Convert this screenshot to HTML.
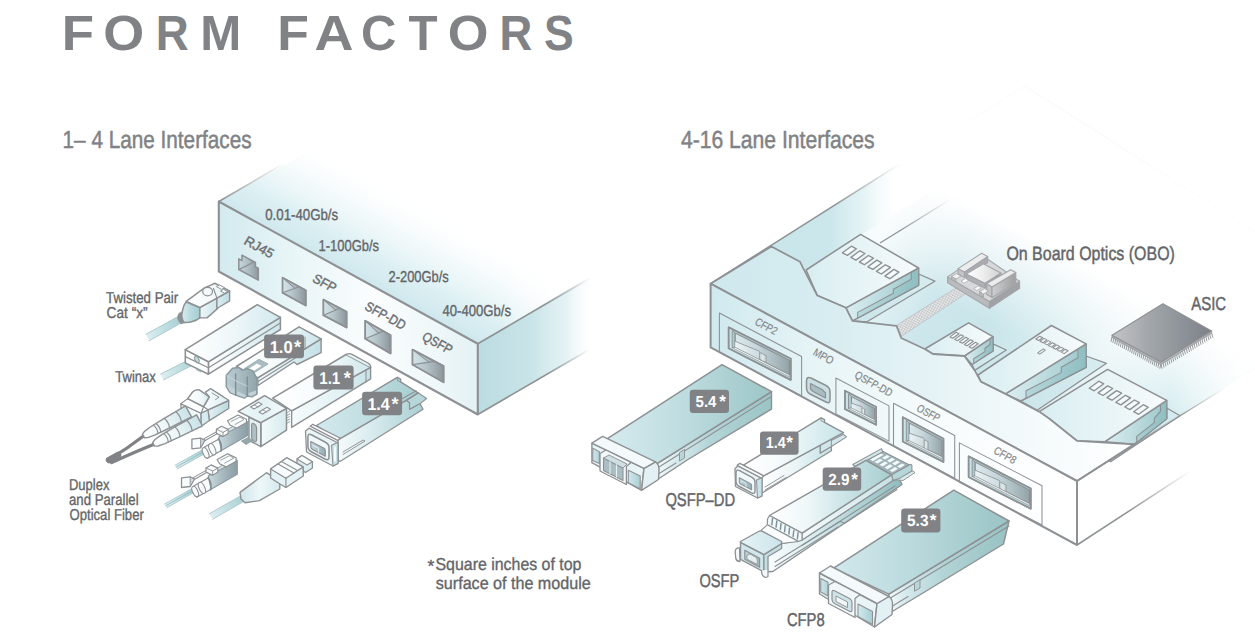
<!DOCTYPE html>
<html><head><meta charset="utf-8"><title>Form Factors</title>
<style>
html,body{margin:0;padding:0;background:#fff;}
body{width:1255px;height:637px;overflow:hidden;font-family:"Liberation Sans",sans-serif;}
svg{display:block;font-family:"Liberation Sans",sans-serif;text-rendering:geometricPrecision;}
</style></head><body>
<svg width="1255" height="637" viewBox="0 0 1255 637">
<defs>
<linearGradient id="g1" gradientUnits="userSpaceOnUse" x1="350.0" y1="273.5" x2="402.0" y2="178.8"><stop offset="0" stop-color="#cfe8ed" stop-opacity="1"/><stop offset="0.25" stop-color="#d9eef2" stop-opacity="0.9"/><stop offset="0.55" stop-color="#e6f4f6" stop-opacity="0.5"/><stop offset="0.92" stop-color="#ffffff" stop-opacity="0"/><stop offset="1" stop-color="#ffffff" stop-opacity="0"/></linearGradient>
<linearGradient id="g2" gradientUnits="userSpaceOnUse" x1="500.0" y1="0.0" x2="600.0" y2="0.0"><stop offset="0" stop-color="#fff" stop-opacity="0"/><stop offset="1" stop-color="#fff" stop-opacity="1"/></linearGradient>
<linearGradient id="g3" gradientUnits="userSpaceOnUse" x1="218.0" y1="0.0" x2="300.0" y2="0.0"><stop offset="0" stop-color="#fff" stop-opacity="0.0"/><stop offset="0.5" stop-color="#fff" stop-opacity="0.0"/><stop offset="1" stop-color="#fff" stop-opacity="0"/></linearGradient>
<linearGradient id="g4" gradientUnits="userSpaceOnUse" x1="478.0" y1="0.0" x2="596.0" y2="0.0"><stop offset="0" stop-color="#bbdce1"/><stop offset="0.45" stop-color="#c9e4e8"/><stop offset="0.75" stop-color="#dceef1" stop-opacity="0.75"/><stop offset="1" stop-color="#ffffff" stop-opacity="0"/></linearGradient>
<linearGradient id="g5" gradientUnits="userSpaceOnUse" x1="218.0" y1="0.0" x2="478.0" y2="0.0"><stop offset="0" stop-color="#d2eaef"/><stop offset="0.25" stop-color="#e6f4f6"/><stop offset="0.6" stop-color="#fbfdfe"/><stop offset="0.85" stop-color="#eef7f9"/><stop offset="1" stop-color="#e3f1f4"/></linearGradient>
<linearGradient id="g6" gradientUnits="userSpaceOnUse" x1="218.8" y1="201.5" x2="285.0" y2="163.0"><stop offset="0" stop-color="#8e9194"/><stop offset="1" stop-color="#8e9194" stop-opacity="0"/></linearGradient>
<linearGradient id="g7" gradientUnits="userSpaceOnUse" x1="478.0" y1="343.0" x2="590.0" y2="278.0"><stop offset="0" stop-color="#8e9194"/><stop offset="0.6" stop-color="#8e9194"/><stop offset="1" stop-color="#8e9194" stop-opacity="0"/></linearGradient>
<linearGradient id="g8" gradientUnits="userSpaceOnUse" x1="478.0" y1="414.0" x2="590.0" y2="349.0"><stop offset="0" stop-color="#8e9194"/><stop offset="0.6" stop-color="#8e9194"/><stop offset="1" stop-color="#8e9194" stop-opacity="0"/></linearGradient>
<linearGradient id="g9" gradientUnits="userSpaceOnUse" x1="238.0" y1="0.0" x2="259.0" y2="0.0"><stop offset="0" stop-color="#c9dbe0"/><stop offset="0.5" stop-color="#aebcc1"/><stop offset="1" stop-color="#8b969b"/></linearGradient>
<linearGradient id="g10" gradientUnits="userSpaceOnUse" x1="282.6" y1="0.0" x2="305.8" y2="0.0"><stop offset="0" stop-color="#c9dbe0"/><stop offset="0.45" stop-color="#b4c3c8"/><stop offset="1" stop-color="#8b969b"/></linearGradient>
<linearGradient id="g11" gradientUnits="userSpaceOnUse" x1="282.6" y1="0.0" x2="294.9" y2="0.0"><stop offset="0" stop-color="#d3e4e8"/><stop offset="1" stop-color="#bccdd2"/></linearGradient>
<linearGradient id="g12" gradientUnits="userSpaceOnUse" x1="323.4" y1="0.0" x2="346.6" y2="0.0"><stop offset="0" stop-color="#c9dbe0"/><stop offset="0.45" stop-color="#b4c3c8"/><stop offset="1" stop-color="#8b969b"/></linearGradient>
<linearGradient id="g13" gradientUnits="userSpaceOnUse" x1="323.4" y1="0.0" x2="335.7" y2="0.0"><stop offset="0" stop-color="#d3e4e8"/><stop offset="1" stop-color="#bccdd2"/></linearGradient>
<linearGradient id="g14" gradientUnits="userSpaceOnUse" x1="365.2" y1="0.0" x2="390.6" y2="0.0"><stop offset="0" stop-color="#c9dbe0"/><stop offset="0.45" stop-color="#b4c3c8"/><stop offset="1" stop-color="#8b969b"/></linearGradient>
<linearGradient id="g15" gradientUnits="userSpaceOnUse" x1="365.2" y1="0.0" x2="378.7" y2="0.0"><stop offset="0" stop-color="#d3e4e8"/><stop offset="1" stop-color="#bccdd2"/></linearGradient>
<linearGradient id="g16" gradientUnits="userSpaceOnUse" x1="412.5" y1="0.0" x2="443.6" y2="0.0"><stop offset="0" stop-color="#c9dbe0"/><stop offset="0.45" stop-color="#b4c3c8"/><stop offset="1" stop-color="#8b969b"/></linearGradient>
<linearGradient id="g17" gradientUnits="userSpaceOnUse" x1="412.5" y1="0.0" x2="429.0" y2="0.0"><stop offset="0" stop-color="#d3e4e8"/><stop offset="1" stop-color="#bccdd2"/></linearGradient>
<linearGradient id="g18" gradientUnits="userSpaceOnUse" x1="147.5" y1="337.5" x2="180.5" y2="319.3"><stop offset="0" stop-color="#dcedf0"/><stop offset="0.5" stop-color="#c1dfe2"/><stop offset="1" stop-color="#a6d0d3"/></linearGradient>
<linearGradient id="g19" gradientUnits="userSpaceOnUse" x1="182.0" y1="0.0" x2="200.0" y2="0.0"><stop offset="0" stop-color="#d9ecef"/><stop offset="0.5" stop-color="#b9dade"/><stop offset="1" stop-color="#a3cdd0"/></linearGradient>
<linearGradient id="g20" gradientUnits="userSpaceOnUse" x1="199.0" y1="0.0" x2="217.0" y2="0.0"><stop offset="0" stop-color="#eef7f9"/><stop offset="1" stop-color="#cfe6ea"/></linearGradient>
<linearGradient id="g21" gradientUnits="userSpaceOnUse" x1="217.0" y1="0.0" x2="230.0" y2="0.0"><stop offset="0" stop-color="#dceef2"/><stop offset="1" stop-color="#bcdce0"/></linearGradient>
<linearGradient id="g22" gradientUnits="userSpaceOnUse" x1="186.0" y1="0.0" x2="230.0" y2="0.0"><stop offset="0" stop-color="#ffffff"/><stop offset="0.6" stop-color="#f4fafb"/><stop offset="1" stop-color="#dceef2"/></linearGradient>
<linearGradient id="g23" gradientUnits="userSpaceOnUse" x1="162.0" y1="377.0" x2="196.5" y2="359.5"><stop offset="0" stop-color="#dcedf0"/><stop offset="0.5" stop-color="#c1dfe2"/><stop offset="1" stop-color="#a6d0d3"/></linearGradient>
<linearGradient id="g24" gradientUnits="userSpaceOnUse" x1="208.0" y1="0.0" x2="281.0" y2="0.0"><stop offset="0" stop-color="#ffffff"/><stop offset="0.5" stop-color="#e9f4f6"/><stop offset="1" stop-color="#cde6ea"/></linearGradient>
<linearGradient id="g25" gradientUnits="userSpaceOnUse" x1="185.0" y1="0.0" x2="281.0" y2="0.0"><stop offset="0" stop-color="#ffffff"/><stop offset="0.45" stop-color="#f1f8fa"/><stop offset="1" stop-color="#d3e9ed"/></linearGradient>
<linearGradient id="g26" gradientUnits="userSpaceOnUse" x1="257.0" y1="0.0" x2="322.0" y2="0.0"><stop offset="0" stop-color="#f4fafb"/><stop offset="0.5" stop-color="#dceef2"/><stop offset="1" stop-color="#c2e0e5"/></linearGradient>
<linearGradient id="g27" gradientUnits="userSpaceOnUse" x1="236.0" y1="0.0" x2="322.0" y2="0.0"><stop offset="0" stop-color="#ffffff"/><stop offset="0.5" stop-color="#f4fafb"/><stop offset="1" stop-color="#cbe5ea"/></linearGradient>
<linearGradient id="g28" gradientUnits="userSpaceOnUse" x1="226.0" y1="0.0" x2="258.0" y2="0.0"><stop offset="0" stop-color="#bccdd2"/><stop offset="0.5" stop-color="#a6b9bf"/><stop offset="1" stop-color="#90a3aa"/></linearGradient>
<linearGradient id="g29" gradientUnits="userSpaceOnUse" x1="291.0" y1="0.0" x2="371.0" y2="0.0"><stop offset="0" stop-color="#f6fbfc"/><stop offset="0.6" stop-color="#e3f2f5"/><stop offset="1" stop-color="#c6e2e7"/></linearGradient>
<linearGradient id="g30" gradientUnits="userSpaceOnUse" x1="272.0" y1="0.0" x2="371.0" y2="0.0"><stop offset="0" stop-color="#ffffff"/><stop offset="0.55" stop-color="#f4fafb"/><stop offset="1" stop-color="#cfe7eb"/></linearGradient>
<linearGradient id="g31" gradientUnits="userSpaceOnUse" x1="261.0" y1="0.0" x2="287.0" y2="0.0"><stop offset="0" stop-color="#f4fafb"/><stop offset="1" stop-color="#d5eaee"/></linearGradient>
<linearGradient id="g32" gradientUnits="userSpaceOnUse" x1="238.0" y1="0.0" x2="287.0" y2="0.0"><stop offset="0" stop-color="#eef7f9"/><stop offset="0.5" stop-color="#e3f1f4"/><stop offset="1" stop-color="#f6fbfc"/></linearGradient>
<linearGradient id="g33" gradientUnits="userSpaceOnUse" x1="338.0" y1="0.0" x2="424.0" y2="0.0"><stop offset="0" stop-color="#f4fafb"/><stop offset="0.35" stop-color="#dcedf0"/><stop offset="1" stop-color="#a9cfd1"/></linearGradient>
<linearGradient id="g34" gradientUnits="userSpaceOnUse" x1="316.0" y1="0.0" x2="420.0" y2="0.0"><stop offset="0" stop-color="#d3e9ed"/><stop offset="0.45" stop-color="#c3dfe3"/><stop offset="1" stop-color="#a5cdcf"/></linearGradient>
<linearGradient id="g35" gradientUnits="userSpaceOnUse" x1="310.0" y1="0.0" x2="326.0" y2="0.0"><stop offset="0" stop-color="#c6dbe0"/><stop offset="1" stop-color="#90aab1"/></linearGradient>
<linearGradient id="g36" gradientUnits="userSpaceOnUse" x1="208.0" y1="0.0" x2="229.0" y2="0.0"><stop offset="0" stop-color="#e3f1f4"/><stop offset="1" stop-color="#b9dade"/></linearGradient>
<linearGradient id="g37" gradientUnits="userSpaceOnUse" x1="203.0" y1="0.0" x2="229.0" y2="0.0"><stop offset="0" stop-color="#f9fcfd"/><stop offset="1" stop-color="#dceef2"/></linearGradient>
<linearGradient id="g38" gradientUnits="userSpaceOnUse" x1="188.0" y1="0.0" x2="210.0" y2="0.0"><stop offset="0" stop-color="#ffffff"/><stop offset="0.6" stop-color="#f1f8fa"/><stop offset="1" stop-color="#cfe6ea"/></linearGradient>
<linearGradient id="g39" gradientUnits="userSpaceOnUse" x1="143.5" y1="436.0" x2="188.5" y2="411.3"><stop offset="0" stop-color="#ffffff"/><stop offset="0.45" stop-color="#eef7f9"/><stop offset="1" stop-color="#c9e3e8"/></linearGradient>
<linearGradient id="g40" gradientUnits="userSpaceOnUse" x1="153.6" y1="444.3" x2="199.5" y2="420.3"><stop offset="0" stop-color="#ffffff"/><stop offset="0.45" stop-color="#eef7f9"/><stop offset="1" stop-color="#c9e3e8"/></linearGradient>
<linearGradient id="g41" gradientUnits="userSpaceOnUse" x1="176.1" y1="467.1" x2="204.0" y2="451.5"><stop offset="0" stop-color="#dcedf0"/><stop offset="0.5" stop-color="#c1dfe2"/><stop offset="1" stop-color="#a6d0d3"/></linearGradient>
<linearGradient id="g42" gradientUnits="userSpaceOnUse" x1="219.0" y1="0.0" x2="248.0" y2="0.0"><stop offset="0" stop-color="#cbdbe0"/><stop offset="0.45" stop-color="#a9bbc1"/><stop offset="1" stop-color="#8b9da4"/></linearGradient>
<linearGradient id="g43" gradientUnits="userSpaceOnUse" x1="165.7" y1="505.8" x2="193.6" y2="490.2"><stop offset="0" stop-color="#dcedf0"/><stop offset="0.5" stop-color="#c1dfe2"/><stop offset="1" stop-color="#a6d0d3"/></linearGradient>
<linearGradient id="g44" gradientUnits="userSpaceOnUse" x1="208.6" y1="0.0" x2="237.6" y2="0.0"><stop offset="0" stop-color="#cbdbe0"/><stop offset="0.45" stop-color="#a9bbc1"/><stop offset="1" stop-color="#8b9da4"/></linearGradient>
<linearGradient id="g45" gradientUnits="userSpaceOnUse" x1="211.0" y1="516.5" x2="245.0" y2="497.0"><stop offset="0" stop-color="#dcedf0"/><stop offset="0.5" stop-color="#c1dfe2"/><stop offset="1" stop-color="#a6d0d3"/></linearGradient>
<linearGradient id="g46" gradientUnits="userSpaceOnUse" x1="240.0" y1="0.0" x2="280.0" y2="0.0"><stop offset="0" stop-color="#cfe6ea"/><stop offset="0.5" stop-color="#eef7f9"/><stop offset="1" stop-color="#d5eaee"/></linearGradient>
<linearGradient id="g47" gradientUnits="userSpaceOnUse" x1="880.0" y1="243.0" x2="1170.6" y2="399.4"><stop offset="0" stop-color="#f4fafb"/><stop offset="0.1" stop-color="#dff0f3"/><stop offset="0.22" stop-color="#cde7ec"/><stop offset="0.4" stop-color="#c9e5ea"/><stop offset="0.58" stop-color="#d3ebef"/><stop offset="0.78" stop-color="#e8f4f6"/><stop offset="0.9" stop-color="#e0f1f4"/><stop offset="1" stop-color="#d3ebef"/></linearGradient>
<linearGradient id="g48" gradientUnits="userSpaceOnUse" x1="710.6" y1="283.7" x2="812.5" y2="94.4"><stop offset="0" stop-color="#fff" stop-opacity="0"/><stop offset="0.45" stop-color="#fff" stop-opacity="0"/><stop offset="0.7" stop-color="#fff" stop-opacity="0.55"/><stop offset="0.9" stop-color="#fff" stop-opacity="1"/><stop offset="1" stop-color="#fff" stop-opacity="1"/></linearGradient>
<linearGradient id="g49" gradientUnits="userSpaceOnUse" x1="1170.0" y1="0.0" x2="1262.0" y2="0.0"><stop offset="0" stop-color="#fff" stop-opacity="0"/><stop offset="1" stop-color="#fff" stop-opacity="1"/></linearGradient>
<linearGradient id="g50" gradientUnits="userSpaceOnUse" x1="760.0" y1="0.0" x2="902.0" y2="0.0"><stop offset="0" stop-color="#c8e5ea" stop-opacity="1"/><stop offset="0.5" stop-color="#cbe7eb" stop-opacity="1"/><stop offset="0.75" stop-color="#d7edf0" stop-opacity="0.6"/><stop offset="1" stop-color="#ffffff" stop-opacity="0"/></linearGradient>
<linearGradient id="g51" gradientUnits="userSpaceOnUse" x1="780.0" y1="240.0" x2="900.0" y2="164.0"><stop offset="0" stop-color="#8e9194"/><stop offset="0.45" stop-color="#8e9194"/><stop offset="1" stop-color="#8e9194" stop-opacity="0"/></linearGradient>
<linearGradient id="g52" gradientUnits="userSpaceOnUse" x1="880.0" y1="243.0" x2="950.0" y2="200.0"><stop offset="0" stop-color="#8e9194"/><stop offset="0.3" stop-color="#8e9194"/><stop offset="1" stop-color="#8e9194" stop-opacity="0"/></linearGradient>
<linearGradient id="g53" gradientUnits="userSpaceOnUse" x1="1134.0" y1="444.0" x2="1225.0" y2="388.0"><stop offset="0" stop-color="#8e9194"/><stop offset="0.5" stop-color="#8e9194"/><stop offset="1" stop-color="#8e9194" stop-opacity="0"/></linearGradient>
<linearGradient id="g54" gradientUnits="userSpaceOnUse" x1="806.0" y1="0.0" x2="933.0" y2="0.0"><stop offset="0" stop-color="#c4e1e6"/><stop offset="1" stop-color="#d6ecf0"/></linearGradient>
<linearGradient id="g55" gradientUnits="userSpaceOnUse" x1="845.9" y1="0.0" x2="918.6" y2="0.0"><stop offset="0" stop-color="#dbeef2"/><stop offset="0.5" stop-color="#bcdbde"/><stop offset="1" stop-color="#9cc7ca"/></linearGradient>
<linearGradient id="g56" gradientUnits="userSpaceOnUse" x1="845.9" y1="0.0" x2="918.6" y2="0.0"><stop offset="0" stop-color="#c2dfe3"/><stop offset="1" stop-color="#8fbec1"/></linearGradient>
<linearGradient id="g57" gradientUnits="userSpaceOnUse" x1="806.0" y1="0.0" x2="918.0" y2="0.0"><stop offset="0" stop-color="#d9eef2"/><stop offset="0.6" stop-color="#eaf5f7"/><stop offset="1" stop-color="#f7fbfc"/></linearGradient>
<pattern id="mesh" width="2.4" height="2.4" patternUnits="userSpaceOnUse" patternTransform="rotate(28)"><rect width="2.4" height="2.4" fill="#e6e7e8"/><path d="M0,0H2.4M0,0V2.4" stroke="#b3b5b8" stroke-width="0.8"/></pattern>
<linearGradient id="g58" gradientUnits="userSpaceOnUse" x1="966.0" y1="0.0" x2="1001.0" y2="0.0"><stop offset="0" stop-color="#ffffff"/><stop offset="0.5" stop-color="#ededee"/><stop offset="1" stop-color="#cfd0d2"/></linearGradient>
<linearGradient id="g59" gradientUnits="userSpaceOnUse" x1="992.0" y1="0.0" x2="1016.0" y2="0.0"><stop offset="0" stop-color="#cdcecf"/><stop offset="1" stop-color="#9d9fa2"/></linearGradient>
<linearGradient id="g60" gradientUnits="userSpaceOnUse" x1="1112.0" y1="0.0" x2="1211.6" y2="0.0"><stop offset="0" stop-color="#c3c5c7"/><stop offset="0.35" stop-color="#a4a8ac"/><stop offset="0.7" stop-color="#8d9398"/><stop offset="1" stop-color="#7b8186"/></linearGradient>
<linearGradient id="g61" gradientUnits="userSpaceOnUse" x1="924.0" y1="0.0" x2="1008.0" y2="0.0"><stop offset="0" stop-color="#c4e1e6"/><stop offset="1" stop-color="#d6ecf0"/></linearGradient>
<linearGradient id="g62" gradientUnits="userSpaceOnUse" x1="964.5" y1="0.0" x2="993.0" y2="0.0"><stop offset="0" stop-color="#dbeef2"/><stop offset="0.5" stop-color="#bcdbde"/><stop offset="1" stop-color="#9cc7ca"/></linearGradient>
<linearGradient id="g63" gradientUnits="userSpaceOnUse" x1="964.5" y1="0.0" x2="993.0" y2="0.0"><stop offset="0" stop-color="#c2dfe3"/><stop offset="1" stop-color="#8fbec1"/></linearGradient>
<linearGradient id="g64" gradientUnits="userSpaceOnUse" x1="924.0" y1="0.0" x2="993.0" y2="0.0"><stop offset="0" stop-color="#d9eef2"/><stop offset="0.6" stop-color="#eaf5f7"/><stop offset="1" stop-color="#f7fbfc"/></linearGradient>
<linearGradient id="g65" gradientUnits="userSpaceOnUse" x1="978.0" y1="0.0" x2="1101.0" y2="0.0"><stop offset="0" stop-color="#c4e1e6"/><stop offset="1" stop-color="#d6ecf0"/></linearGradient>
<linearGradient id="g66" gradientUnits="userSpaceOnUse" x1="1005.4" y1="0.0" x2="1086.1" y2="0.0"><stop offset="0" stop-color="#dbeef2"/><stop offset="0.5" stop-color="#bcdbde"/><stop offset="1" stop-color="#9cc7ca"/></linearGradient>
<linearGradient id="g67" gradientUnits="userSpaceOnUse" x1="1005.4" y1="0.0" x2="1086.1" y2="0.0"><stop offset="0" stop-color="#c2dfe3"/><stop offset="1" stop-color="#8fbec1"/></linearGradient>
<linearGradient id="g68" gradientUnits="userSpaceOnUse" x1="978.0" y1="0.0" x2="1086.0" y2="0.0"><stop offset="0" stop-color="#d9eef2"/><stop offset="0.6" stop-color="#eaf5f7"/><stop offset="1" stop-color="#f7fbfc"/></linearGradient>
<linearGradient id="g69" gradientUnits="userSpaceOnUse" x1="1039.0" y1="0.0" x2="1181.0" y2="0.0"><stop offset="0" stop-color="#c4e1e6"/><stop offset="1" stop-color="#d6ecf0"/></linearGradient>
<linearGradient id="g70" gradientUnits="userSpaceOnUse" x1="1104.5" y1="0.0" x2="1166.7" y2="0.0"><stop offset="0" stop-color="#dbeef2"/><stop offset="0.5" stop-color="#bcdbde"/><stop offset="1" stop-color="#9cc7ca"/></linearGradient>
<linearGradient id="g71" gradientUnits="userSpaceOnUse" x1="1104.5" y1="0.0" x2="1166.7" y2="0.0"><stop offset="0" stop-color="#c2dfe3"/><stop offset="1" stop-color="#8fbec1"/></linearGradient>
<linearGradient id="g72" gradientUnits="userSpaceOnUse" x1="1039.0" y1="0.0" x2="1166.0" y2="0.0"><stop offset="0" stop-color="#d9eef2"/><stop offset="0.6" stop-color="#eaf5f7"/><stop offset="1" stop-color="#f7fbfc"/></linearGradient>
<linearGradient id="g73" gradientUnits="userSpaceOnUse" x1="710.0" y1="0.0" x2="1135.0" y2="0.0"><stop offset="0" stop-color="#cfe8ed"/><stop offset="0.25" stop-color="#d6ecf0"/><stop offset="0.5" stop-color="#e4f2f5"/><stop offset="0.75" stop-color="#f4fafb"/><stop offset="1" stop-color="#ffffff"/></linearGradient>
<linearGradient id="g74" gradientUnits="userSpaceOnUse" x1="1077.0" y1="481.0" x2="1190.0" y2="409.0"><stop offset="0" stop-color="#8e9194"/><stop offset="0.45" stop-color="#8e9194"/><stop offset="1" stop-color="#8e9194" stop-opacity="0"/></linearGradient>
<linearGradient id="g75" gradientUnits="userSpaceOnUse" x1="1077.0" y1="545.0" x2="1190.0" y2="471.0"><stop offset="0" stop-color="#8e9194"/><stop offset="0.45" stop-color="#8e9194"/><stop offset="1" stop-color="#8e9194" stop-opacity="0"/></linearGradient>
<linearGradient id="g76" gradientUnits="userSpaceOnUse" x1="710.0" y1="0.0" x2="1077.0" y2="0.0"><stop offset="0" stop-color="#cfe9ee"/><stop offset="0.1" stop-color="#d7edf1"/><stop offset="0.28" stop-color="#e6f4f6"/><stop offset="0.55" stop-color="#f4fafb"/><stop offset="0.8" stop-color="#fcfeff"/><stop offset="1" stop-color="#ffffff"/></linearGradient>
<linearGradient id="g77" gradientUnits="userSpaceOnUse" x1="728.6" y1="0.0" x2="790.8" y2="0.0"><stop offset="0" stop-color="#c9e4e8"/><stop offset="1" stop-color="#aed2d7"/></linearGradient>
<linearGradient id="g78" gradientUnits="userSpaceOnUse" x1="735.2" y1="0.0" x2="789.4" y2="0.0"><stop offset="0" stop-color="#dbe9ec"/><stop offset="0.4" stop-color="#c6d6da"/><stop offset="0.75" stop-color="#aabbc0"/><stop offset="1" stop-color="#93a3a8"/></linearGradient>
<linearGradient id="g79" gradientUnits="userSpaceOnUse" x1="735.2" y1="0.0" x2="762.3" y2="0.0"><stop offset="0" stop-color="#eaf3f5"/><stop offset="1" stop-color="#c9d9dd"/></linearGradient>
<linearGradient id="g80" gradientUnits="userSpaceOnUse" x1="844.9" y1="0.0" x2="876.1" y2="0.0"><stop offset="0" stop-color="#c9e4e8"/><stop offset="1" stop-color="#aed2d7"/></linearGradient>
<linearGradient id="g81" gradientUnits="userSpaceOnUse" x1="851.5" y1="0.0" x2="874.7" y2="0.0"><stop offset="0" stop-color="#dbe9ec"/><stop offset="0.4" stop-color="#c6d6da"/><stop offset="0.75" stop-color="#aabbc0"/><stop offset="1" stop-color="#93a3a8"/></linearGradient>
<linearGradient id="g82" gradientUnits="userSpaceOnUse" x1="851.5" y1="0.0" x2="863.1" y2="0.0"><stop offset="0" stop-color="#eaf3f5"/><stop offset="1" stop-color="#c9d9dd"/></linearGradient>
<linearGradient id="g83" gradientUnits="userSpaceOnUse" x1="902.7" y1="0.0" x2="943.5" y2="0.0"><stop offset="0" stop-color="#c9e4e8"/><stop offset="1" stop-color="#aed2d7"/></linearGradient>
<linearGradient id="g84" gradientUnits="userSpaceOnUse" x1="909.3" y1="0.0" x2="942.1" y2="0.0"><stop offset="0" stop-color="#dbe9ec"/><stop offset="0.4" stop-color="#c6d6da"/><stop offset="0.75" stop-color="#aabbc0"/><stop offset="1" stop-color="#93a3a8"/></linearGradient>
<linearGradient id="g85" gradientUnits="userSpaceOnUse" x1="909.3" y1="0.0" x2="925.7" y2="0.0"><stop offset="0" stop-color="#eaf3f5"/><stop offset="1" stop-color="#c9d9dd"/></linearGradient>
<linearGradient id="g86" gradientUnits="userSpaceOnUse" x1="968.6" y1="0.0" x2="1030.8" y2="0.0"><stop offset="0" stop-color="#c9e4e8"/><stop offset="1" stop-color="#aed2d7"/></linearGradient>
<linearGradient id="g87" gradientUnits="userSpaceOnUse" x1="975.2" y1="0.0" x2="1029.4" y2="0.0"><stop offset="0" stop-color="#dbe9ec"/><stop offset="0.4" stop-color="#c6d6da"/><stop offset="0.75" stop-color="#aabbc0"/><stop offset="1" stop-color="#93a3a8"/></linearGradient>
<linearGradient id="g88" gradientUnits="userSpaceOnUse" x1="975.2" y1="0.0" x2="1002.3" y2="0.0"><stop offset="0" stop-color="#eaf3f5"/><stop offset="1" stop-color="#c9d9dd"/></linearGradient>
<linearGradient id="g89" gradientUnits="userSpaceOnUse" x1="655.0" y1="0.0" x2="772.0" y2="0.0"><stop offset="0" stop-color="#f4fafb"/><stop offset="0.18" stop-color="#d7ebee"/><stop offset="0.45" stop-color="#b5d6d8"/><stop offset="1" stop-color="#9ac4c5"/></linearGradient>
<linearGradient id="g90" gradientUnits="userSpaceOnUse" x1="607.0" y1="0.0" x2="771.0" y2="0.0"><stop offset="0" stop-color="#d5eaee"/><stop offset="0.45" stop-color="#bfdde0"/><stop offset="1" stop-color="#9cc6c7"/></linearGradient>
<linearGradient id="g91" gradientUnits="userSpaceOnUse" x1="592.0" y1="0.0" x2="600.0" y2="0.0"><stop offset="0" stop-color="#d3e9ee"/><stop offset="1" stop-color="#aed3d8"/></linearGradient>
<linearGradient id="g92" gradientUnits="userSpaceOnUse" x1="628.0" y1="0.0" x2="641.0" y2="0.0"><stop offset="0" stop-color="#d3e9ee"/><stop offset="1" stop-color="#a5cdd2"/></linearGradient>
<linearGradient id="g93" gradientUnits="userSpaceOnUse" x1="761.0" y1="0.0" x2="832.0" y2="0.0"><stop offset="0" stop-color="#ffffff"/><stop offset="0.5" stop-color="#e9f4f6"/><stop offset="1" stop-color="#c4e1e5"/></linearGradient>
<linearGradient id="g94" gradientUnits="userSpaceOnUse" x1="743.0" y1="0.0" x2="846.0" y2="0.0"><stop offset="0" stop-color="#ffffff"/><stop offset="0.35" stop-color="#f4fafb"/><stop offset="0.7" stop-color="#dceff2"/><stop offset="1" stop-color="#c4e2e7"/></linearGradient>
<linearGradient id="g95" gradientUnits="userSpaceOnUse" x1="739.0" y1="0.0" x2="752.0" y2="0.0"><stop offset="0" stop-color="#c3d9de"/><stop offset="1" stop-color="#93adb4"/></linearGradient>
<linearGradient id="g96" gradientUnits="userSpaceOnUse" x1="772.0" y1="0.0" x2="905.0" y2="0.0"><stop offset="0" stop-color="#f6fbfc"/><stop offset="0.3" stop-color="#dbeef1"/><stop offset="0.6" stop-color="#b3d5d8"/><stop offset="1" stop-color="#8fbcbe"/></linearGradient>
<linearGradient id="g97" gradientUnits="userSpaceOnUse" x1="800.0" y1="0.0" x2="912.0" y2="0.0"><stop offset="0" stop-color="#f4fafb"/><stop offset="0.5" stop-color="#dceef1"/><stop offset="1" stop-color="#b9d9dc"/></linearGradient>
<linearGradient id="g98" gradientUnits="userSpaceOnUse" x1="770.0" y1="0.0" x2="895.0" y2="0.0"><stop offset="0" stop-color="#ffffff"/><stop offset="0.3" stop-color="#eef7f9"/><stop offset="0.62" stop-color="#c9e3e6"/><stop offset="1" stop-color="#a4cccd"/></linearGradient>
<linearGradient id="g99" gradientUnits="userSpaceOnUse" x1="741.0" y1="0.0" x2="782.0" y2="0.0"><stop offset="0" stop-color="#e6f3f6"/><stop offset="1" stop-color="#cbe5ea"/></linearGradient>
<linearGradient id="g100" gradientUnits="userSpaceOnUse" x1="745.0" y1="0.0" x2="760.0" y2="0.0"><stop offset="0" stop-color="#bfd4d9"/><stop offset="1" stop-color="#9fb8be"/></linearGradient>
<linearGradient id="g101" gradientUnits="userSpaceOnUse" x1="889.0" y1="0.0" x2="1009.0" y2="0.0"><stop offset="0" stop-color="#f4fafb"/><stop offset="0.15" stop-color="#d3e8ec"/><stop offset="0.45" stop-color="#b2d4d6"/><stop offset="1" stop-color="#97c1c2"/></linearGradient>
<linearGradient id="g102" gradientUnits="userSpaceOnUse" x1="833.0" y1="0.0" x2="1009.0" y2="0.0"><stop offset="0" stop-color="#d2e8ec"/><stop offset="0.4" stop-color="#bddcdf"/><stop offset="1" stop-color="#9ac4c5"/></linearGradient>
<linearGradient id="g103" gradientUnits="userSpaceOnUse" x1="820.0" y1="0.0" x2="828.0" y2="0.0"><stop offset="0" stop-color="#d3e9ee"/><stop offset="1" stop-color="#aed3d8"/></linearGradient>
<linearGradient id="g104" gradientUnits="userSpaceOnUse" x1="858.0" y1="0.0" x2="873.0" y2="0.0"><stop offset="0" stop-color="#d3e9ee"/><stop offset="1" stop-color="#a5cdd2"/></linearGradient>
</defs>
<text transform="translate(61.67,49.6) scale(1.065,1)" font-size="49.6" font-weight="bold" fill="#808285">F</text>
<text transform="translate(103.14,49.6) scale(1.062,1)" font-size="49.6" font-weight="bold" fill="#808285">O</text>
<text transform="translate(155.84,49.6) scale(0.921,1)" font-size="49.6" font-weight="bold" fill="#808285">R</text>
<text transform="translate(200.21,49.6) scale(0.992,1)" font-size="49.6" font-weight="bold" fill="#808285">M</text>
<text transform="translate(277.23,49.6) scale(1.045,1)" font-size="49.6" font-weight="bold" fill="#808285">F</text>
<text transform="translate(314.56,49.6) scale(1.088,1)" font-size="49.6" font-weight="bold" fill="#808285">A</text>
<text transform="translate(360.99,49.6) scale(0.987,1)" font-size="49.6" font-weight="bold" fill="#808285">C</text>
<text transform="translate(408.47,49.6) scale(0.959,1)" font-size="49.6" font-weight="bold" fill="#808285">T</text>
<text transform="translate(447.65,49.6) scale(1.056,1)" font-size="49.6" font-weight="bold" fill="#808285">O</text>
<text transform="translate(499.46,49.6) scale(0.915,1)" font-size="49.6" font-weight="bold" fill="#808285">R</text>
<text transform="translate(544.12,49.6) scale(0.898,1)" font-size="49.6" font-weight="bold" fill="#808285">S</text>
<text x="62.6" y="147.6" font-size="24.80" fill="#808285" font-weight="normal" text-anchor="start" textLength="189.0" lengthAdjust="spacingAndGlyphs"  stroke="#808285" stroke-width="0.5">1– 4 Lane Interfaces</text>
<text x="680.9" y="147.6" font-size="24.80" fill="#808285" font-weight="normal" text-anchor="start" textLength="193.8" lengthAdjust="spacingAndGlyphs"  stroke="#808285" stroke-width="0.5">4-16 Lane Interfaces</text>
<polygon points="218.8,201.5 336.9,136.0 622.2,263.8 477.8,343.8" fill="url(#g1)"/>
<polygon points="218.8,201.5 336.9,136.0 622.2,263.8 477.8,343.8" fill="url(#g2)"/>
<polygon points="477.8,343.8 600.0,270.0 600.0,345.0 477.8,414.5" fill="url(#g4)"/>
<polygon points="218.8,201.5 477.8,343.8 477.8,414.5 218.8,271.5" fill="url(#g5)" stroke="#8e9194" stroke-width="2.124" stroke-linejoin="round" />
<line x1="218.8" y1="201.5" x2="290" y2="160" stroke="url(#g6)" stroke-width="1.6"/>
<line x1="477.8" y1="343.8" x2="592" y2="277" stroke="url(#g7)" stroke-width="1.6"/>
<line x1="477.8" y1="414.5" x2="592" y2="348" stroke="url(#g8)" stroke-width="1.6"/>
<text x="265.2" y="219.9" font-size="15.70" fill="#636569" font-weight="normal" text-anchor="start" textLength="73.0" lengthAdjust="spacingAndGlyphs"  stroke="#636569" stroke-width="0.35">0.01-40Gb/s</text>
<text x="318.5" y="251.3" font-size="15.70" fill="#636569" font-weight="normal" text-anchor="start" textLength="60.6" lengthAdjust="spacingAndGlyphs"  stroke="#636569" stroke-width="0.35">1-100Gb/s</text>
<text x="388.5" y="281.8" font-size="15.70" fill="#636569" font-weight="normal" text-anchor="start" textLength="60.2" lengthAdjust="spacingAndGlyphs"  stroke="#636569" stroke-width="0.35">2-200Gb/s</text>
<text x="442.5" y="315.6" font-size="15.70" fill="#636569" font-weight="normal" text-anchor="start" textLength="68.5" lengthAdjust="spacingAndGlyphs"  stroke="#636569" stroke-width="0.35">40-400Gb/s</text>
<polygon points="238.8,258.9 238.8,269.5 258.3,280.1 258.3,268.1 255.4,266.7 255.4,262.5 242.0,255.1 242.0,260.6" fill="url(#g9)" stroke="#8e9194" stroke-width="1.534" stroke-linejoin="round" />
<polyline points="238.8,269.6 253.5,262.2" fill="none" stroke="#8e9194" stroke-width="1.18" stroke-linejoin="round" stroke-linecap="round" />
<polygon points="282.6,277.6 282.6,292.8 305.8,305.6 305.8,290.3" fill="url(#g10)" stroke="#8e9194" stroke-width="1.534" stroke-linejoin="round" />
<polygon points="282.6,277.6 282.6,292.8 294.9,288.3" fill="url(#g11)"/>
<polyline points="282.6,292.8 299.2,286.7" fill="none" stroke="#8e9194" stroke-width="1.18" stroke-linejoin="round" stroke-linecap="round" />
<polyline points="282.6,277.6 294.9,288.3" fill="none" stroke="#8e9194" stroke-width="1.062" stroke-linejoin="round" stroke-linecap="round" />
<polygon points="282.6,277.6 282.6,292.8 305.8,305.6 305.8,290.3" fill="none" stroke="#8e9194" stroke-width="1.652" stroke-linejoin="round" />
<polygon points="323.4,299.6 323.4,315.2 346.6,327.6 346.6,311.8" fill="url(#g12)" stroke="#8e9194" stroke-width="1.534" stroke-linejoin="round" />
<polygon points="323.4,299.6 323.4,315.2 335.7,310.1" fill="url(#g13)"/>
<polyline points="323.4,315.2 340.0,308.3" fill="none" stroke="#8e9194" stroke-width="1.18" stroke-linejoin="round" stroke-linecap="round" />
<polyline points="323.4,299.6 335.7,310.1" fill="none" stroke="#8e9194" stroke-width="1.062" stroke-linejoin="round" stroke-linecap="round" />
<polygon points="323.4,299.6 323.4,315.2 346.6,327.6 346.6,311.8" fill="none" stroke="#8e9194" stroke-width="1.652" stroke-linejoin="round" />
<polygon points="365.2,320.7 365.2,338.7 390.6,353.5 390.6,335.2" fill="url(#g14)" stroke="#8e9194" stroke-width="1.534" stroke-linejoin="round" />
<polygon points="365.2,320.7 365.2,338.7 378.7,333.1" fill="url(#g15)"/>
<polyline points="365.2,338.7 383.4,331.1" fill="none" stroke="#8e9194" stroke-width="1.18" stroke-linejoin="round" stroke-linecap="round" />
<polyline points="365.2,320.7 378.7,333.1" fill="none" stroke="#8e9194" stroke-width="1.062" stroke-linejoin="round" stroke-linecap="round" />
<polygon points="365.2,320.7 365.2,338.7 390.6,353.5 390.6,335.2" fill="none" stroke="#8e9194" stroke-width="1.652" stroke-linejoin="round" />
<polygon points="412.5,349.6 412.5,364.6 443.6,382.4 443.6,366.0" fill="url(#g16)" stroke="#8e9194" stroke-width="1.534" stroke-linejoin="round" />
<polygon points="412.5,349.6 412.5,364.6 429.0,362.2" fill="url(#g17)"/>
<polyline points="412.5,364.6 434.8,361.3" fill="none" stroke="#8e9194" stroke-width="1.18" stroke-linejoin="round" stroke-linecap="round" />
<polyline points="412.5,349.6 429.0,362.2" fill="none" stroke="#8e9194" stroke-width="1.062" stroke-linejoin="round" stroke-linecap="round" />
<polygon points="412.5,349.6 412.5,364.6 443.6,382.4 443.6,366.0" fill="none" stroke="#8e9194" stroke-width="1.652" stroke-linejoin="round" />
<text transform="matrix(0.879,0.477,-0.515,0.857,243.0,243.6)" font-size="13.40" fill="#6f7174" textLength="31.5" lengthAdjust="spacingAndGlyphs" stroke="#6f7174" stroke-width="0.45" >RJ45</text>
<text transform="matrix(0.879,0.477,-0.515,0.857,311.6,281.2)" font-size="13.40" fill="#6f7174" textLength="24.4" lengthAdjust="spacingAndGlyphs" stroke="#6f7174" stroke-width="0.45" >SFP</text>
<text transform="matrix(0.879,0.477,-0.515,0.857,363.8,309.0)" font-size="13.40" fill="#6f7174" textLength="44.0" lengthAdjust="spacingAndGlyphs" stroke="#6f7174" stroke-width="0.45" >SFP-DD</text>
<text transform="matrix(0.879,0.477,-0.515,0.857,421.0,339.2)" font-size="13.40" fill="#6f7174" textLength="32.0" lengthAdjust="spacingAndGlyphs" stroke="#6f7174" stroke-width="0.45" >QSFP</text>
<text x="106.1" y="303.4" font-size="15.80" fill="#636569" font-weight="normal" text-anchor="start" textLength="72.1" lengthAdjust="spacingAndGlyphs"  stroke="#636569" stroke-width="0.35">Twisted Pair</text>
<text x="106.6" y="318.4" font-size="15.80" fill="#636569" font-weight="normal" text-anchor="start" textLength="41.0" lengthAdjust="spacingAndGlyphs"  stroke="#636569" stroke-width="0.35">Cat “x”</text>
<text x="115.3" y="382.4" font-size="15.80" fill="#636569" font-weight="normal" text-anchor="start" textLength="40.6" lengthAdjust="spacingAndGlyphs"  stroke="#636569" stroke-width="0.35">Twinax</text>
<text x="69.0" y="490.2" font-size="15.80" fill="#636569" font-weight="normal" text-anchor="start" textLength="40.4" lengthAdjust="spacingAndGlyphs"  stroke="#636569" stroke-width="0.35">Duplex</text>
<text x="69.0" y="505.3" font-size="15.80" fill="#636569" font-weight="normal" text-anchor="start" textLength="69.6" lengthAdjust="spacingAndGlyphs"  stroke="#636569" stroke-width="0.35">and Parallel</text>
<text x="69.5" y="520.4" font-size="15.80" fill="#636569" font-weight="normal" text-anchor="start" textLength="74.3" lengthAdjust="spacingAndGlyphs"  stroke="#636569" stroke-width="0.35">Optical Fiber</text>
<text x="427.6" y="571.5" font-size="17.50" fill="#636569" font-weight="normal" text-anchor="start"  stroke="#636569" stroke-width="0.35">*</text>
<text x="435.5" y="569.8" font-size="17.30" fill="#636569" font-weight="normal" text-anchor="start" textLength="145.9" lengthAdjust="spacingAndGlyphs"  stroke="#636569" stroke-width="0.35">Square inches of top</text>
<text x="435.8" y="588.7" font-size="17.30" fill="#636569" font-weight="normal" text-anchor="start" textLength="154.9" lengthAdjust="spacingAndGlyphs"  stroke="#636569" stroke-width="0.35">surface of the module</text>
<polygon points="149.2,340.7 182.2,322.5 178.8,316.1 145.8,334.3" fill="url(#g18)"/>
<polyline points="149.2,340.7 182.2,322.5" fill="none" stroke="#a9c4c8" stroke-width="0.826" stroke-linejoin="round" stroke-linecap="round" />
<polyline points="145.8,334.3 178.8,316.1" fill="none" stroke="#a9c4c8" stroke-width="0.826" stroke-linejoin="round" stroke-linecap="round" />
<path d="M179,313.2 Q175.5,318.5 181,324 L185,322.6 Q180.8,318 183.2,311.6 Z" fill="#8d9093" stroke="#8d9093" stroke-width="0.59" stroke-linejoin="round" stroke-linecap="round" />
<path d="M182.3,311.9 C183,307 184.5,304 186.2,302 L199.9,307.5 L199.9,317.9 C195,321.5 190,322.8 184.3,322.5 C181.6,319.5 181.4,315 182.3,311.9 Z" fill="url(#g19)" stroke="#8e9194" stroke-width="1.534" stroke-linejoin="round" stroke-linecap="round" />
<polygon points="199.9,307.5 216.9,298.1 216.9,309.1 207.0,317.9 199.9,317.9" fill="url(#g20)" stroke="#8e9194" stroke-width="1.416" stroke-linejoin="round" />
<polygon points="216.9,298.1 229.6,291.0 229.6,300.9 218.6,307.5 216.9,309.1" fill="url(#g21)" stroke="#8e9194" stroke-width="1.416" stroke-linejoin="round" />
<polygon points="186.2,301.4 204.8,287.7 211.4,284.9 214.7,283.3 229.6,291.0 216.9,298.1 199.9,307.5" fill="url(#g22)" stroke="#8e9194" stroke-width="1.534" stroke-linejoin="round" />
<polyline points="213.5,288.5 216.9,298.1" fill="none" stroke="#8e9194" stroke-width="1.18" stroke-linejoin="round" stroke-linecap="round" />
<polygon points="216.5,286.6 219.5,285.0 224.5,287.6 221.5,289.3" fill="#ffffff" stroke="#8e9194" stroke-width="0.944" stroke-linejoin="round" />
<polygon points="220.5,291.0 223.5,289.4 227.5,291.5 224.5,293.2" fill="#ffffff" stroke="#8e9194" stroke-width="0.944" stroke-linejoin="round" />
<ellipse cx="207.6" cy="291.6" rx="4.9" ry="4.3" fill="#f4fafb" stroke="#8e9194" stroke-width="1.2"/>
<polygon points="163.5,379.9 198.0,362.4 195.0,356.6 160.5,374.1" fill="url(#g23)"/>
<polyline points="163.5,379.9 198.0,362.4" fill="none" stroke="#a9c4c8" stroke-width="0.826" stroke-linejoin="round" stroke-linecap="round" />
<polyline points="160.5,374.1 195.0,356.6" fill="none" stroke="#a9c4c8" stroke-width="0.826" stroke-linejoin="round" stroke-linecap="round" />
<polygon points="208.4,361.8 280.4,317.3 280.4,329.5 208.4,374.2" fill="url(#g24)" stroke="#8e9194" stroke-width="1.534" stroke-linejoin="round" />
<polyline points="208.4,367.8 280.4,323.1" fill="none" stroke="#8e9194" stroke-width="1.18" stroke-linejoin="round" stroke-linecap="round" />
<polygon points="185.3,349.6 208.4,361.8 208.4,374.2 185.3,362.9" fill="#ffffff" stroke="#8e9194" stroke-width="1.534" stroke-linejoin="round" />
<polyline points="185.3,356.6 208.4,367.8" fill="none" stroke="#8e9194" stroke-width="1.18" stroke-linejoin="round" stroke-linecap="round" />
<polygon points="185.3,349.6 257.3,304.7 280.4,317.3 208.4,361.8" fill="url(#g25)" stroke="#8e9194" stroke-width="1.534" stroke-linejoin="round" />
<polygon points="196.0,368.2 201.0,370.8 201.0,372.5 196.0,370.0" fill="#9fb1b6" stroke="none" stroke-width="1.534" stroke-linejoin="round" />
<ellipse cx="196.8" cy="359.4" rx="2.0" ry="3.5" transform="rotate(-27 196.8 359.4)" fill="#b9dade" stroke="#8e9194" stroke-width="0.9"/>
<polygon points="257.7,377.8 321.1,338.8 321.1,352.6 297.0,364.5 294.0,362.0 258.0,385.5" fill="url(#g26)" stroke="#8e9194" stroke-width="1.416" stroke-linejoin="round" />
<polyline points="258.0,381.5 296.0,357.5" fill="none" stroke="#8e9194" stroke-width="1.062" stroke-linejoin="round" stroke-linecap="round" />
<polygon points="236.3,366.5 299.1,326.9 321.1,338.8 257.7,377.8" fill="url(#g27)" stroke="#8e9194" stroke-width="1.534" stroke-linejoin="round" />
<polyline points="305.0,337.0 305.0,349.5" fill="none" stroke="#8e9194" stroke-width="1.062" stroke-linejoin="round" stroke-linecap="round" />
<polygon points="244.5,368.5 259.0,359.3 268.0,364.0 253.0,373.5" fill="#a9bcc1" stroke="#97a9ae" stroke-width="0.826" stroke-linejoin="round" />
<polygon points="249.0,368.5 257.0,363.5 261.5,366.0 253.5,371.0" fill="#ffffff" stroke="none" stroke-width="1.534" stroke-linejoin="round" />
<polygon points="226.3,375.2 232.6,368.3 238.8,367.5 242.4,370.2 247.0,368.7 252.9,370.9 257.0,379.0 257.0,394.1 252.0,396.8 247.0,396.0 244.5,398.1 236.3,395.3 230.0,392.6 226.3,386.6" fill="url(#g28)" stroke="#8a9aa1" stroke-width="1.534" stroke-linejoin="round" />
<polygon points="227.5,385.0 235.0,389.0 235.0,394.3 230.5,392.2 227.5,387.0" fill="#c3d2d7" stroke="none" stroke-width="1.534" stroke-linejoin="round" />
<polygon points="237.0,391.0 246.5,395.5 244.5,397.5 237.0,394.8" fill="#c3d2d7" stroke="none" stroke-width="1.534" stroke-linejoin="round" />
<polygon points="248.5,393.0 256.0,390.5 256.0,393.8 252.0,396.0 248.5,395.5" fill="#c3d2d7" stroke="none" stroke-width="1.534" stroke-linejoin="round" />
<polyline points="235.6,374.0 235.6,394.8" fill="none" stroke="#7b8d94" stroke-width="1.298" stroke-linejoin="round" stroke-linecap="round" />
<polyline points="247.2,377.0 247.2,395.8" fill="none" stroke="#7b8d94" stroke-width="1.298" stroke-linejoin="round" stroke-linecap="round" />
<polyline points="226.8,376.0 235.6,380.5" fill="none" stroke="#c9d7db" stroke-width="0.944" stroke-linejoin="round" stroke-linecap="round" />
<polyline points="236.0,381.0 247.0,386.0" fill="none" stroke="#c9d7db" stroke-width="0.944" stroke-linejoin="round" stroke-linecap="round" />
<rect x="264.1" y="334.4" width="39.9" height="23.9" rx="3.2" fill="#808285"/>
<text transform="translate(269.66,352.50) scale(0.964,1)" font-size="17.10" fill="#fff" font-weight="bold">1.0</text>
<text x="293.95" y="352.50" font-size="18.13" fill="#fff" font-weight="bold">*</text>
<polygon points="291.6,410.8 370.6,367.3 370.6,378.8 291.6,427.3" fill="url(#g29)" stroke="#8e9194" stroke-width="1.416" stroke-linejoin="round" />
<polygon points="272.7,398.2 346.1,354.5 370.6,367.3 291.6,410.8" fill="url(#g30)" stroke="#8e9194" stroke-width="1.534" stroke-linejoin="round" />
<path d="M346.1,354.5 Q349,352.8 352,354.4 L368,363 Q371,364.8 370.6,367.3" fill="#e6f3f6" stroke="#8e9194" stroke-width="1.298" stroke-linejoin="round" stroke-linecap="round" />
<polyline points="366.0,370.0 366.0,382.0" fill="none" stroke="#8e9194" stroke-width="1.062" stroke-linejoin="round" stroke-linecap="round" />
<polyline points="283.5,414.6 289.5,411.4" fill="none" stroke="#9fb1b6" stroke-width="1.062" stroke-linejoin="round" stroke-linecap="round" />
<polyline points="283.5,417.2 289.5,414.0" fill="none" stroke="#9fb1b6" stroke-width="1.062" stroke-linejoin="round" stroke-linecap="round" />
<polyline points="283.5,419.8 289.5,416.6" fill="none" stroke="#9fb1b6" stroke-width="1.062" stroke-linejoin="round" stroke-linecap="round" />
<polyline points="283.5,422.4 289.5,419.2" fill="none" stroke="#9fb1b6" stroke-width="1.062" stroke-linejoin="round" stroke-linecap="round" />
<polyline points="283.5,425.0 289.5,421.8" fill="none" stroke="#9fb1b6" stroke-width="1.062" stroke-linejoin="round" stroke-linecap="round" />
<polygon points="260.8,422.7 286.5,408.3 286.5,430.2 260.8,446.6" fill="url(#g31)" stroke="#8e9194" stroke-width="1.534" stroke-linejoin="round" />
<polygon points="248.9,417.0 260.8,422.7 260.8,446.6 248.9,440.3" fill="#e3f1f4" stroke="#8e9194" stroke-width="1.534" stroke-linejoin="round" />
<polygon points="238.2,411.4 264.6,395.7 286.5,408.3 260.8,422.7" fill="url(#g32)" stroke="#8e9194" stroke-width="1.534" stroke-linejoin="round" />
<polygon points="250.5,407.0 258.5,402.3 262.0,404.2 254.0,409.0" fill="#f9fcfd" stroke="#8e9194" stroke-width="1.062" stroke-linejoin="round" />
<polygon points="259.0,412.0 267.0,407.3 270.5,409.2 262.5,414.0" fill="#f9fcfd" stroke="#8e9194" stroke-width="1.062" stroke-linejoin="round" />
<polyline points="254.5,405.0 258.3,407.0" fill="none" stroke="#8e9194" stroke-width="0.826" stroke-linejoin="round" stroke-linecap="round" />
<polyline points="263.0,410.0 266.8,412.0" fill="none" stroke="#8e9194" stroke-width="0.826" stroke-linejoin="round" stroke-linecap="round" />
<path d="M251.6,425.5 Q251.6,422.5 254,423.8 Q256.6,425.2 256.6,428 L256.6,439.5 Q256.6,442.5 254,441.2 Q251.6,439.8 251.6,437 Z" fill="#aebfc5" stroke="#8e9194" stroke-width="1.18" stroke-linejoin="round" stroke-linecap="round" />
<polygon points="241.5,441.0 248.0,437.5 252.5,440.5 246.0,444.5" fill="#97a8ad" stroke="#8b9ba1" stroke-width="0.826" stroke-linejoin="round" />
<rect x="313.4" y="365.5" width="40.2" height="23.9" rx="3.2" fill="#808285"/>
<text transform="translate(319.25,383.60) scale(0.882,1)" font-size="17.10" fill="#fff" font-weight="bold">1.1</text>
<text x="343.65" y="383.60" font-size="18.13" fill="#fff" font-weight="bold">*</text>
<polygon points="338.0,439.8 406.5,400.2 409.6,403.0 409.6,409.3 420.0,403.5 423.0,409.2 340.0,461.5 338.0,460.0" fill="url(#g33)" stroke="#8e9194" stroke-width="1.298" stroke-linejoin="round" />
<polyline points="343.0,452.0 363.0,440.0 365.0,441.0 343.0,454.5" fill="none" stroke="#8e9194" stroke-width="0.944" stroke-linejoin="round" stroke-linecap="round" />
<polygon points="418.1,392.8 426.6,398.5 421.4,402.7 409.6,409.3 409.6,403.0 406.5,400.2" fill="#b5d7da" stroke="#8e9194" stroke-width="1.062" stroke-linejoin="round" />
<polygon points="316.5,425.5 397.3,377.3 400.6,379.1 400.6,381.8 418.1,392.8 406.5,400.2 338.0,439.8" fill="url(#g34)" stroke="#8e9194" stroke-width="1.416" stroke-linejoin="round" />
<polyline points="397.3,377.3 397.3,380.5 400.6,381.8" fill="none" stroke="#8e9194" stroke-width="0.944" stroke-linejoin="round" stroke-linecap="round" />
<polyline points="402.5,398.5 416.2,390.8" fill="none" stroke="#8e9194" stroke-width="1.062" stroke-linejoin="round" stroke-linecap="round" />
<polyline points="406.5,400.2 418.1,392.8" fill="none" stroke="#8e9194" stroke-width="1.062" stroke-linejoin="round" stroke-linecap="round" />
<path d="M305.5,431 L309,428.2 L338,443 L338,463.5 L333,466 L306.5,452 Z" fill="#e9f4f6" stroke="#8e9194" stroke-width="1.298" stroke-linejoin="round" stroke-linecap="round" />
<polygon points="331.5,445.2 338.0,442.2 338.0,463.5 333.0,466.0" fill="#c9e3e8" stroke="#8e9194" stroke-width="1.062" stroke-linejoin="round" />
<polygon points="334.0,447.0 336.0,446.0 336.0,461.0 334.0,462.0" fill="#f4fafb" stroke="none" stroke-width="1.534" stroke-linejoin="round" />
<polygon points="310.1,426.2 312.8,424.3 340.0,438.0 338.1,440.6" fill="#fbfdfe" stroke="#8e9194" stroke-width="1.298" stroke-linejoin="round" />
<path d="M307.9,437 Q307.9,433 311.8,435 L325.5,442.2 Q329,444 329,447.5 L329,457 Q329,461 325,459 L311.8,452 Q307.9,450 307.9,446.5 Z" fill="#f1f8fa" stroke="#8e9194" stroke-width="1.534" stroke-linejoin="round" stroke-linecap="round" />
<path d="M310.8,441.5 L324,448.3 Q325.3,449.2 325.3,451 L325.3,456.2 L313,449.8 Q310.8,448.6 310.8,446.8 Z" fill="url(#g35)" stroke="#8e9194" stroke-width="1.18" stroke-linejoin="round" stroke-linecap="round" />
<path d="M313,445.5 L318.5,448.3 L318.5,452.3" fill="none" stroke="#e3edf0" stroke-width="1.062" stroke-linejoin="round" stroke-linecap="round" />
<rect x="362.1" y="391.7" width="40.0" height="23.6" rx="3.2" fill="#808285"/>
<text transform="translate(367.38,409.70) scale(0.942,1)" font-size="17.10" fill="#fff" font-weight="bold">1.4</text>
<text x="391.55" y="409.70" font-size="18.13" fill="#fff" font-weight="bold">*</text>
<path d="M109.8,459.2 Q128,448 143.5,436" fill="none" stroke="#808285" stroke-width="3.186" stroke-linejoin="round" stroke-linecap="round" />
<path d="M111.6,462.6 Q135,452 154,444.3" fill="none" stroke="#808285" stroke-width="3.186" stroke-linejoin="round" stroke-linecap="round" />
<polyline points="109.0,460.0 118.0,455.0" fill="none" stroke="#808285" stroke-width="6.489999999999999" stroke-linejoin="round" stroke-linecap="round" />
<polygon points="180.8,403.7 201.1,413.2 201.1,426.6 194.0,424.5 181.5,412.5" fill="#f1f8fa" stroke="#8e9194" stroke-width="1.298" stroke-linejoin="round" />
<polygon points="180.8,403.7 187.7,398.6 203.6,406.7 201.1,413.2" fill="#fbfdfe" stroke="#8e9194" stroke-width="1.18" stroke-linejoin="round" />
<polygon points="208.0,409.8 228.7,400.7 228.7,408.5 209.3,420.6" fill="url(#g36)" stroke="#8e9194" stroke-width="1.416" stroke-linejoin="round" />
<polygon points="201.1,413.2 208.0,409.8 209.3,420.6 201.1,426.6" fill="#d6ebef" stroke="#8e9194" stroke-width="1.298" stroke-linejoin="round" />
<polygon points="205.4,392.1 210.6,388.6 228.7,400.3 208.0,409.8 203.6,406.7 209.3,396.8" fill="url(#g37)" stroke="#8e9194" stroke-width="1.298" stroke-linejoin="round" />
<polyline points="212.0,393.0 219.0,397.2 215.5,399.6" fill="none" stroke="#8e9194" stroke-width="0.944" stroke-linejoin="round" stroke-linecap="round" />
<polyline points="216.5,392.5 223.5,396.7" fill="none" stroke="#8e9194" stroke-width="0.944" stroke-linejoin="round" stroke-linecap="round" />
<path d="M187.7,398.6 L192.6,392 Q195.5,389 199.3,389.9 L209.3,396.8 L203.6,406.7 Z" fill="url(#g38)" stroke="#8e9194" stroke-width="1.534" stroke-linejoin="round" stroke-linecap="round" />
<path d="M199.3,389.9 Q207,394 203.6,406.7" fill="none" stroke="#8e9194" stroke-width="0.0" stroke-linejoin="round" stroke-linecap="round" />
<polygon points="144.5,437.8 147.9,437.6 154.7,435.1 168.6,428.5 191.5,416.8 185.5,405.8 163.4,418.8 150.3,427.0 144.5,431.4 142.5,434.2" fill="url(#g39)" stroke="#8e9194" stroke-width="1.416" stroke-linejoin="round" />
<path d="M158.0,433.5 Q157.6,428.3 153.3,425.1" fill="none" stroke="#8e9194" stroke-width="1.18" stroke-linejoin="round" stroke-linecap="round" />
<path d="M160.8,432.2 Q160.3,426.8 155.9,423.5" fill="none" stroke="#8e9194" stroke-width="1.18" stroke-linejoin="round" stroke-linecap="round" />
<path d="M169.6,428.0 Q168.8,422.1 164.2,418.3" fill="none" stroke="#8e9194" stroke-width="1.18" stroke-linejoin="round" stroke-linecap="round" />
<path d="M181.4,421.9 Q180.5,415.7 175.8,411.5" fill="none" stroke="#8e9194" stroke-width="1.18" stroke-linejoin="round" stroke-linecap="round" />
<polygon points="154.5,446.1 158.0,446.0 164.9,443.6 179.1,437.2 202.4,425.8 196.6,414.8 174.0,427.4 160.6,435.4 154.7,439.8 152.7,442.5" fill="url(#g40)" stroke="#8e9194" stroke-width="1.416" stroke-linejoin="round" />
<path d="M168.2,442.1 Q167.9,436.8 163.8,433.6" fill="none" stroke="#8e9194" stroke-width="1.18" stroke-linejoin="round" stroke-linecap="round" />
<path d="M171.1,440.8 Q170.7,435.4 166.4,432.0" fill="none" stroke="#8e9194" stroke-width="1.18" stroke-linejoin="round" stroke-linecap="round" />
<path d="M180.0,436.7 Q179.4,430.8 174.9,426.9" fill="none" stroke="#8e9194" stroke-width="1.18" stroke-linejoin="round" stroke-linecap="round" />
<path d="M192.1,430.8 Q191.4,424.6 186.7,420.3" fill="none" stroke="#8e9194" stroke-width="1.18" stroke-linejoin="round" stroke-linecap="round" />
<polygon points="177.2,469.0 205.1,453.4 202.9,449.6 175.0,465.2" fill="url(#g41)"/>
<polyline points="177.2,469.0 205.1,453.4" fill="none" stroke="#a9c4c8" stroke-width="0.826" stroke-linejoin="round" stroke-linecap="round" />
<polyline points="175.0,465.2 202.9,449.6" fill="none" stroke="#a9c4c8" stroke-width="0.826" stroke-linejoin="round" stroke-linecap="round" />
<polyline points="176.1,467.1 204.0,451.5" fill="none" stroke="#8fbcc0" stroke-width="0.826" stroke-linejoin="round" stroke-linecap="round" />
<polygon points="219.0,437.0 247.6,421.7 247.6,435.5 221.0,450.8 218.0,447.0" fill="url(#g42)" stroke="#8c9ca2" stroke-width="1.298" stroke-linejoin="round" />
<polygon points="219.0,437.0 223.0,432.0 244.5,420.0 247.6,421.7" fill="#dbe7ea" stroke="#8c9ca2" stroke-width="0.944" stroke-linejoin="round" />
<polygon points="204.5,447.0 219.0,439.0 221.5,450.5 207.0,458.5" fill="#f9fcfd" stroke="#8e9194" stroke-width="1.18" stroke-linejoin="round" />
<ellipse cx="205.6" cy="452.8" rx="2.6" ry="5.6" transform="rotate(-25 205.6 452.8)" fill="#f9fcfd" stroke="#8e9194" stroke-width="1.1"/>
<ellipse cx="212.3" cy="449.2" rx="2.8" ry="6.0" transform="rotate(-25 212.3 449.2)" fill="#f9fcfd" stroke="#8e9194" stroke-width="1.1"/>
<path d="M218.5,439.0 Q222.5,444.0 221.0,450.8" fill="none" stroke="#7f9096" stroke-width="1.652" stroke-linejoin="round" stroke-linecap="round" />
<polygon points="191.9,439.1 200.6,438.1 204.7,440.6 200.6,447.8 191.9,448.8" fill="#f9fcfd" stroke="#8e9194" stroke-width="1.298" stroke-linejoin="round" />
<polygon points="200.6,438.1 204.7,440.6 200.6,447.8" fill="#c9d9de" stroke="#8e9194" stroke-width="0.944" stroke-linejoin="round" />
<polygon points="203.7,438.9 221.0,429.2 222.6,430.6 205.2,440.5" fill="#f9fcfd" stroke="#8e9194" stroke-width="1.062" stroke-linejoin="round" />
<polygon points="216.4,429.2 221.5,426.2 228.2,429.4 228.2,433.5 223.0,436.6 216.4,433.4" fill="#f9fcfd" stroke="#8e9194" stroke-width="1.18" stroke-linejoin="round" />
<polyline points="216.4,429.2 223.0,432.4 228.2,429.4" fill="none" stroke="#8e9194" stroke-width="0.944" stroke-linejoin="round" stroke-linecap="round" />
<polyline points="223.0,432.4 223.0,436.6" fill="none" stroke="#8e9194" stroke-width="0.944" stroke-linejoin="round" stroke-linecap="round" />
<polygon points="227.5,420.8 238.0,415.0 246.5,419.2 246.5,422.6 236.5,428.2 230.0,425.0" fill="#f9fcfd" stroke="#8e9194" stroke-width="1.18" stroke-linejoin="round" />
<polyline points="231.0,421.5 240.0,417.0 244.0,419.5 235.0,424.5" fill="none" stroke="#8e9194" stroke-width="0.826" stroke-linejoin="round" stroke-linecap="round" />
<polygon points="166.8,507.7 194.7,492.1 192.5,488.3 164.6,503.9" fill="url(#g43)"/>
<polyline points="166.8,507.7 194.7,492.1" fill="none" stroke="#a9c4c8" stroke-width="0.826" stroke-linejoin="round" stroke-linecap="round" />
<polyline points="164.6,503.9 192.5,488.3" fill="none" stroke="#a9c4c8" stroke-width="0.826" stroke-linejoin="round" stroke-linecap="round" />
<polyline points="165.7,505.8 193.6,490.2" fill="none" stroke="#8fbcc0" stroke-width="0.826" stroke-linejoin="round" stroke-linecap="round" />
<polygon points="208.6,475.7 237.2,460.4 237.2,474.2 210.6,489.5 207.6,485.7" fill="url(#g44)" stroke="#8c9ca2" stroke-width="1.298" stroke-linejoin="round" />
<polygon points="208.6,475.7 212.6,470.7 234.1,458.7 237.2,460.4" fill="#dbe7ea" stroke="#8c9ca2" stroke-width="0.944" stroke-linejoin="round" />
<polygon points="194.1,485.7 208.6,477.7 211.1,489.2 196.6,497.2" fill="#f9fcfd" stroke="#8e9194" stroke-width="1.18" stroke-linejoin="round" />
<ellipse cx="195.2" cy="491.5" rx="2.6" ry="5.6" transform="rotate(-25 195.2 491.5)" fill="#f9fcfd" stroke="#8e9194" stroke-width="1.1"/>
<ellipse cx="201.9" cy="487.9" rx="2.8" ry="6.0" transform="rotate(-25 201.9 487.9)" fill="#f9fcfd" stroke="#8e9194" stroke-width="1.1"/>
<path d="M208.1,477.7 Q212.1,482.7 210.6,489.5" fill="none" stroke="#7f9096" stroke-width="1.652" stroke-linejoin="round" stroke-linecap="round" />
<polygon points="181.5,477.8 190.2,476.8 194.3,479.3 190.2,486.5 181.5,487.5" fill="#f9fcfd" stroke="#8e9194" stroke-width="1.298" stroke-linejoin="round" />
<polygon points="190.2,476.8 194.3,479.3 190.2,486.5" fill="#c9d9de" stroke="#8e9194" stroke-width="0.944" stroke-linejoin="round" />
<polygon points="193.3,477.6 210.6,467.9 212.2,469.3 194.8,479.2" fill="#f9fcfd" stroke="#8e9194" stroke-width="1.062" stroke-linejoin="round" />
<polygon points="206.0,467.9 211.1,464.9 217.8,468.1 217.8,472.2 212.6,475.3 206.0,472.1" fill="#f9fcfd" stroke="#8e9194" stroke-width="1.18" stroke-linejoin="round" />
<polyline points="206.0,467.9 212.6,471.1 217.8,468.1" fill="none" stroke="#8e9194" stroke-width="0.944" stroke-linejoin="round" stroke-linecap="round" />
<polyline points="212.6,471.1 212.6,475.3" fill="none" stroke="#8e9194" stroke-width="0.944" stroke-linejoin="round" stroke-linecap="round" />
<polygon points="217.1,459.5 227.6,453.7 236.1,457.9 236.1,461.3 226.1,466.9 219.6,463.7" fill="#f9fcfd" stroke="#8e9194" stroke-width="1.18" stroke-linejoin="round" />
<polyline points="220.6,460.2 229.6,455.7 233.6,458.2 224.6,463.2" fill="none" stroke="#8e9194" stroke-width="0.826" stroke-linejoin="round" stroke-linecap="round" />
<polygon points="212.6,519.3 246.6,499.8 243.4,494.2 209.4,513.7" fill="url(#g45)"/>
<polyline points="212.6,519.3 246.6,499.8" fill="none" stroke="#a9c4c8" stroke-width="0.826" stroke-linejoin="round" stroke-linecap="round" />
<polyline points="209.4,513.7 243.4,494.2" fill="none" stroke="#a9c4c8" stroke-width="0.826" stroke-linejoin="round" stroke-linecap="round" />
<polygon points="240.0,492.4 266.5,472.7 279.8,481.2 279.8,489.0 259.4,500.6 245.1,502.7 241.0,499.0" fill="url(#g46)" stroke="#8e9194" stroke-width="1.416" stroke-linejoin="round" />
<polyline points="266.5,472.7 266.5,481.0 259.4,500.6" fill="none" stroke="#8e9194" stroke-width="0.0" stroke-linejoin="round" stroke-linecap="round" />
<polygon points="270.6,469.0 286.9,457.8 303.3,466.9 303.3,476.0 285.9,487.5 280.0,484.0 270.6,478.0" fill="#e6f3f6" stroke="#8e9194" stroke-width="1.416" stroke-linejoin="round" />
<polygon points="270.6,469.0 286.9,457.8 303.3,466.9 285.9,478.2" fill="#f6fbfc" stroke="#8e9194" stroke-width="1.298" stroke-linejoin="round" />
<polyline points="285.9,478.2 285.9,487.5" fill="none" stroke="#8e9194" stroke-width="1.18" stroke-linejoin="round" stroke-linecap="round" />
<polyline points="278.0,464.0 294.0,473.0" fill="none" stroke="#8e9194" stroke-width="1.062" stroke-linejoin="round" stroke-linecap="round" />
<polyline points="281.5,461.5 297.5,470.5" fill="none" stroke="#8e9194" stroke-width="1.062" stroke-linejoin="round" stroke-linecap="round" />
<polygon points="297.0,459.0 302.0,455.5 312.4,461.8 312.4,468.0 305.5,472.5 303.3,471.0 303.3,466.9 297.0,463.0" fill="#dceef2" stroke="#8e9194" stroke-width="1.298" stroke-linejoin="round" />
<polygon points="297.0,459.0 302.0,455.5 312.4,461.8 307.0,465.0" fill="#f6fbfc" stroke="#8e9194" stroke-width="1.062" stroke-linejoin="round" />
<polygon points="771.4,246.5 1024.9,86.0 1362.2,299.9 1134.1,444.3 1076.9,440.8 1049.4,418.8 1039.2,411.6 1005.4,393.9 980.8,381.6 974.7,370.4 964.5,356.0 932.9,354.0 924.7,349.0 901.2,338.0 896.5,325.8 852.4,320.8 845.9,307.8 817.3,295.5 800.0,261.8" fill="url(#g47)"/>
<polygon points="771.4,246.5 1024.9,86.0 1362.2,299.9 1134.1,444.3 1076.9,440.8 1049.4,418.8 1039.2,411.6 1005.4,393.9 980.8,381.6 974.7,370.4 964.5,356.0 932.9,354.0 924.7,349.0 901.2,338.0 896.5,325.8 852.4,320.8 845.9,307.8 817.3,295.5 800.0,261.8" fill="url(#g48)"/>
<polygon points="771.4,246.5 1024.9,86.0 1362.2,299.9 1134.1,444.3 1076.9,440.8 1049.4,418.8 1039.2,411.6 1005.4,393.9 980.8,381.6 974.7,370.4 964.5,356.0 932.9,354.0 924.7,349.0 901.2,338.0 896.5,325.8 852.4,320.8 845.9,307.8 817.3,295.5 800.0,261.8" fill="url(#g49)"/>
<polygon points="710.6,283.7 955.6,128.5 1025.8,130.9 806.1,270.0 800.0,261.8 771.4,246.5" fill="#fff"/>
<polygon points="710.6,283.7 955.6,128.5 1025.8,130.9 806.1,270.0 800.0,261.8 771.4,246.5" fill="url(#g50)"/>
<line x1="710.6" y1="283.7" x2="905" y2="160.6" stroke="url(#g51)" stroke-width="1.6"/>
<line x1="880" y1="243" x2="952" y2="198.5" stroke="url(#g52)" stroke-width="1.3"/>
<line x1="1134.1" y1="444.3" x2="1228" y2="386" stroke="url(#g53)" stroke-width="1.3"/>
<polygon points="918.6,274.0 934.9,281.2 866.5,322.0 852.4,320.8 918.6,285.3" fill="url(#g54)" stroke="#8e9194" stroke-width="1.298" stroke-linejoin="round" />
<polygon points="845.9,307.8 918.6,268.0 918.6,285.3 852.4,320.8" fill="url(#g55)" stroke="#8e9194" stroke-width="1.416" stroke-linejoin="round" />
<polygon points="857.7,318.0 857.7,312.4 893.4,293.3 893.4,289.3 911.3,279.3 911.3,272.4 918.6,268.3 918.6,285.3" fill="url(#g56)" stroke="#8e9194" stroke-width="1.062" stroke-linejoin="round" />
<polygon points="806.1,270.0 860.6,234.3 918.6,268.0 845.9,307.8 817.3,295.5" fill="url(#g57)" stroke="#8e9194" stroke-width="1.534" stroke-linejoin="round" />
<polygon points="842.4,252.8 851.4,246.2 856.4,248.8 847.4,255.4" fill="#f4fafb" stroke="#8e9194" stroke-width="1.3569999999999998" stroke-linejoin="round" />
<polygon points="850.9,257.4 859.9,250.8 864.9,253.5 855.9,260.1" fill="#f4fafb" stroke="#8e9194" stroke-width="1.3569999999999998" stroke-linejoin="round" />
<polygon points="859.4,262.1 868.4,255.5 873.4,258.1 864.4,264.7" fill="#f4fafb" stroke="#8e9194" stroke-width="1.3569999999999998" stroke-linejoin="round" />
<polygon points="867.9,266.8 876.9,260.1 881.9,262.8 872.9,269.4" fill="#f4fafb" stroke="#8e9194" stroke-width="1.3569999999999998" stroke-linejoin="round" />
<polygon points="876.4,271.4 885.4,264.8 890.4,267.4 881.4,274.0" fill="#f4fafb" stroke="#8e9194" stroke-width="1.3569999999999998" stroke-linejoin="round" />
<polygon points="884.9,276.1 893.9,269.4 898.9,272.1 889.9,278.7" fill="#f4fafb" stroke="#8e9194" stroke-width="1.3569999999999998" stroke-linejoin="round" />
<polygon points="896.8,325.2 966.5,281.3 972.5,289.0 901.2,336.5" fill="url(#mesh)" stroke="#b9bbbd" stroke-width="0.7"/>
<polygon points="947.6,276.9 989.4,301.5 989.4,308.2 947.6,282.9" fill="#b9bbbd" stroke="#a3a5a8" stroke-width="1.062" stroke-linejoin="round" />
<polygon points="989.4,301.5 1019.6,281.3 1019.6,288.4 989.4,308.2" fill="#a0a2a5" stroke="#a3a5a8" stroke-width="1.062" stroke-linejoin="round" />
<polygon points="947.6,276.9 981.0,254.5 1019.6,281.3 989.4,301.5" fill="#d7d8d9" stroke="#a3a5a8" stroke-width="1.062" stroke-linejoin="round" />
<polygon points="958.1,268.6 964.5,272.0 964.5,277.5 958.1,274.0" fill="#c3c4c6" stroke="#a3a5a8" stroke-width="1.062" stroke-linejoin="round" />
<polygon points="964.5,272.0 987.7,256.5 987.7,262.5 964.5,277.5" fill="#a9abae" stroke="#a3a5a8" stroke-width="1.062" stroke-linejoin="round" />
<polygon points="958.1,268.6 981.7,253.2 987.7,256.5 964.5,272.0" fill="#ebecec" stroke="#a3a5a8" stroke-width="1.062" stroke-linejoin="round" />
<polygon points="966.3,274.1 985.0,283.2 985.0,288.0 966.3,279.0" fill="#aeb0b3" stroke="#a3a5a8" stroke-width="1.062" stroke-linejoin="round" />
<polygon points="985.0,283.2 1000.9,273.0 1000.9,277.0 985.0,288.0" fill="#9d9fa2" stroke="#a3a5a8" stroke-width="1.062" stroke-linejoin="round" />
<polygon points="966.3,274.1 983.4,263.7 1000.9,273.0 985.0,283.2" fill="url(#g58)" stroke="#a3a5a8" stroke-width="1.062" stroke-linejoin="round" />
<polygon points="986.6,283.5 992.0,287.0 992.0,297.5 986.6,294.3" fill="#c3c4c6" stroke="#a3a5a8" stroke-width="1.062" stroke-linejoin="round" />
<polygon points="992.0,287.0 1015.8,272.5 1015.8,283.0 992.0,297.5" fill="url(#g59)" stroke="#a3a5a8" stroke-width="1.062" stroke-linejoin="round" />
<polygon points="986.6,283.5 1010.8,269.7 1015.8,272.5 992.0,287.0" fill="#ebecec" stroke="#a3a5a8" stroke-width="1.062" stroke-linejoin="round" />
<polygon points="951.5,276.5 956.5,273.6 961.0,276.0 956.0,279.2" fill="#f2f2f3" stroke="#a3a5a8" stroke-width="0.826" stroke-linejoin="round" />
<polygon points="951.5,276.5 956.0,279.2 956.0,282.0 951.5,279.5" fill="#b9bbbd" stroke="#a3a5a8" stroke-width="0.826" stroke-linejoin="round" />
<polygon points="979.5,291.5 984.5,288.6 988.5,291.0 983.5,294.2" fill="#f2f2f3" stroke="#a3a5a8" stroke-width="0.826" stroke-linejoin="round" />
<polygon points="979.5,291.5 983.5,294.2 983.5,297.0 979.5,294.5" fill="#b9bbbd" stroke="#a3a5a8" stroke-width="0.826" stroke-linejoin="round" />
<polygon points="961.0,281.2 965.6,278.6 968.6,280.3 964.0,283.2" fill="#ffffff" stroke="#a3a5a8" stroke-width="0.708" stroke-linejoin="round" />
<polygon points="973.8,288.6 978.4,286.0 981.4,287.7 976.8,290.6" fill="#ffffff" stroke="#a3a5a8" stroke-width="0.708" stroke-linejoin="round" />
<line x1="1112.0" y1="337.0" x2="1111.0" y2="341.8" stroke="#8b8d90" stroke-width="0.9"/>
<line x1="1160.8" y1="363.9" x2="1162.1" y2="368.7" stroke="#8b8d90" stroke-width="0.9"/>
<line x1="1113.9" y1="338.0" x2="1112.9" y2="342.8" stroke="#8b8d90" stroke-width="0.9"/>
<line x1="1162.8" y1="362.7" x2="1164.1" y2="367.5" stroke="#8b8d90" stroke-width="0.9"/>
<line x1="1115.8" y1="339.1" x2="1114.8" y2="343.9" stroke="#8b8d90" stroke-width="0.9"/>
<line x1="1164.7" y1="361.5" x2="1166.0" y2="366.3" stroke="#8b8d90" stroke-width="0.9"/>
<line x1="1117.6" y1="340.1" x2="1116.6" y2="344.9" stroke="#8b8d90" stroke-width="0.9"/>
<line x1="1166.7" y1="360.3" x2="1168.0" y2="365.1" stroke="#8b8d90" stroke-width="0.9"/>
<line x1="1119.5" y1="341.1" x2="1118.5" y2="345.9" stroke="#8b8d90" stroke-width="0.9"/>
<line x1="1168.6" y1="359.1" x2="1169.9" y2="363.9" stroke="#8b8d90" stroke-width="0.9"/>
<line x1="1121.4" y1="342.2" x2="1120.4" y2="347.0" stroke="#8b8d90" stroke-width="0.9"/>
<line x1="1170.6" y1="357.9" x2="1171.9" y2="362.7" stroke="#8b8d90" stroke-width="0.9"/>
<line x1="1123.3" y1="343.2" x2="1122.3" y2="348.0" stroke="#8b8d90" stroke-width="0.9"/>
<line x1="1172.5" y1="356.7" x2="1173.8" y2="361.5" stroke="#8b8d90" stroke-width="0.9"/>
<line x1="1125.1" y1="344.2" x2="1124.1" y2="349.0" stroke="#8b8d90" stroke-width="0.9"/>
<line x1="1174.5" y1="355.5" x2="1175.8" y2="360.3" stroke="#8b8d90" stroke-width="0.9"/>
<line x1="1127.0" y1="345.3" x2="1126.0" y2="350.1" stroke="#8b8d90" stroke-width="0.9"/>
<line x1="1176.4" y1="354.3" x2="1177.7" y2="359.1" stroke="#8b8d90" stroke-width="0.9"/>
<line x1="1128.9" y1="346.3" x2="1127.9" y2="351.1" stroke="#8b8d90" stroke-width="0.9"/>
<line x1="1178.4" y1="353.1" x2="1179.7" y2="357.9" stroke="#8b8d90" stroke-width="0.9"/>
<line x1="1130.8" y1="347.3" x2="1129.8" y2="352.1" stroke="#8b8d90" stroke-width="0.9"/>
<line x1="1180.3" y1="351.9" x2="1181.6" y2="356.7" stroke="#8b8d90" stroke-width="0.9"/>
<line x1="1132.6" y1="348.4" x2="1131.6" y2="353.2" stroke="#8b8d90" stroke-width="0.9"/>
<line x1="1182.3" y1="350.7" x2="1183.6" y2="355.5" stroke="#8b8d90" stroke-width="0.9"/>
<line x1="1134.5" y1="349.4" x2="1133.5" y2="354.2" stroke="#8b8d90" stroke-width="0.9"/>
<line x1="1184.2" y1="349.5" x2="1185.5" y2="354.3" stroke="#8b8d90" stroke-width="0.9"/>
<line x1="1136.4" y1="350.4" x2="1135.4" y2="355.2" stroke="#8b8d90" stroke-width="0.9"/>
<line x1="1186.2" y1="348.4" x2="1187.5" y2="353.2" stroke="#8b8d90" stroke-width="0.9"/>
<line x1="1138.3" y1="351.5" x2="1137.3" y2="356.3" stroke="#8b8d90" stroke-width="0.9"/>
<line x1="1188.2" y1="347.2" x2="1189.5" y2="352.0" stroke="#8b8d90" stroke-width="0.9"/>
<line x1="1140.2" y1="352.5" x2="1139.2" y2="357.3" stroke="#8b8d90" stroke-width="0.9"/>
<line x1="1190.1" y1="346.0" x2="1191.4" y2="350.8" stroke="#8b8d90" stroke-width="0.9"/>
<line x1="1142.0" y1="353.6" x2="1141.0" y2="358.4" stroke="#8b8d90" stroke-width="0.9"/>
<line x1="1192.1" y1="344.8" x2="1193.4" y2="349.6" stroke="#8b8d90" stroke-width="0.9"/>
<line x1="1143.9" y1="354.6" x2="1142.9" y2="359.4" stroke="#8b8d90" stroke-width="0.9"/>
<line x1="1194.0" y1="343.6" x2="1195.3" y2="348.4" stroke="#8b8d90" stroke-width="0.9"/>
<line x1="1145.8" y1="355.6" x2="1144.8" y2="360.4" stroke="#8b8d90" stroke-width="0.9"/>
<line x1="1196.0" y1="342.4" x2="1197.3" y2="347.2" stroke="#8b8d90" stroke-width="0.9"/>
<line x1="1147.7" y1="356.7" x2="1146.7" y2="361.5" stroke="#8b8d90" stroke-width="0.9"/>
<line x1="1197.9" y1="341.2" x2="1199.2" y2="346.0" stroke="#8b8d90" stroke-width="0.9"/>
<line x1="1149.5" y1="357.7" x2="1148.5" y2="362.5" stroke="#8b8d90" stroke-width="0.9"/>
<line x1="1199.9" y1="340.0" x2="1201.2" y2="344.8" stroke="#8b8d90" stroke-width="0.9"/>
<line x1="1151.4" y1="358.7" x2="1150.4" y2="363.5" stroke="#8b8d90" stroke-width="0.9"/>
<line x1="1201.8" y1="338.8" x2="1203.1" y2="343.6" stroke="#8b8d90" stroke-width="0.9"/>
<line x1="1153.3" y1="359.8" x2="1152.3" y2="364.6" stroke="#8b8d90" stroke-width="0.9"/>
<line x1="1203.8" y1="337.6" x2="1205.1" y2="342.4" stroke="#8b8d90" stroke-width="0.9"/>
<line x1="1155.2" y1="360.8" x2="1154.2" y2="365.6" stroke="#8b8d90" stroke-width="0.9"/>
<line x1="1205.7" y1="336.4" x2="1207.0" y2="341.2" stroke="#8b8d90" stroke-width="0.9"/>
<line x1="1157.0" y1="361.8" x2="1156.0" y2="366.6" stroke="#8b8d90" stroke-width="0.9"/>
<line x1="1207.7" y1="335.2" x2="1209.0" y2="340.0" stroke="#8b8d90" stroke-width="0.9"/>
<line x1="1158.9" y1="362.9" x2="1157.9" y2="367.7" stroke="#8b8d90" stroke-width="0.9"/>
<line x1="1209.6" y1="334.0" x2="1210.9" y2="338.8" stroke="#8b8d90" stroke-width="0.9"/>
<line x1="1160.8" y1="363.9" x2="1159.8" y2="368.7" stroke="#8b8d90" stroke-width="0.9"/>
<line x1="1211.6" y1="332.8" x2="1212.9" y2="337.6" stroke="#8b8d90" stroke-width="0.9"/>
<polygon points="1112.0,335.2 1160.8,362.1 1211.6,331.0 1211.6,333.2 1160.8,364.5 1112.0,337.4" fill="#b5b7ba" stroke="#97999c" stroke-width="0.944" stroke-linejoin="round" />
<polygon points="1112.0,335.2 1162.9,303.8 1211.6,331.0 1160.8,362.1" fill="url(#g60)" stroke="#8f9194" stroke-width="1.18" stroke-linejoin="round" />
<polygon points="993.0,343.8 1006.3,350.0 974.7,370.4 972.0,364.5 993.0,351.0" fill="url(#g61)" stroke="#8e9194" stroke-width="1.298" stroke-linejoin="round" />
<polygon points="964.5,356.0 993.0,336.7 993.0,351.0 972.0,364.5" fill="url(#g62)" stroke="#8e9194" stroke-width="1.416" stroke-linejoin="round" />
<polygon points="973.7,363.4 973.7,358.8 985.0,351.6 985.0,348.3 990.1,344.5 990.1,338.8 993.0,337.0 993.0,351.0" fill="url(#g63)" stroke="#8e9194" stroke-width="1.062" stroke-linejoin="round" />
<polygon points="924.7,349.0 968.6,322.9 993.0,336.7 964.5,356.0 932.9,354.0" fill="url(#g64)" stroke="#8e9194" stroke-width="1.534" stroke-linejoin="round" />
<polygon points="950.0,336.9 956.2,332.3 959.0,333.7 952.8,338.3" fill="#f4fafb" stroke="#8e9194" stroke-width="1.121" stroke-linejoin="round" />
<polygon points="954.8,339.4 961.0,334.8 963.8,336.2 957.5,340.8" fill="#f4fafb" stroke="#8e9194" stroke-width="1.121" stroke-linejoin="round" />
<polygon points="959.6,341.9 965.9,337.3 968.6,338.7 962.4,343.3" fill="#f4fafb" stroke="#8e9194" stroke-width="1.121" stroke-linejoin="round" />
<polygon points="964.4,344.4 970.6,339.8 973.4,341.2 967.1,345.8" fill="#f4fafb" stroke="#8e9194" stroke-width="1.121" stroke-linejoin="round" />
<polygon points="969.2,346.9 975.5,342.3 978.2,343.7 972.0,348.3" fill="#f4fafb" stroke="#8e9194" stroke-width="1.121" stroke-linejoin="round" />
<polygon points="1086.1,356.0 1106.5,363.3 1037.1,410.2 1020.8,401.0 1086.1,367.3" fill="url(#g65)" stroke="#8e9194" stroke-width="1.298" stroke-linejoin="round" />
<polygon points="1005.4,393.9 1086.1,343.9 1086.1,367.3 1020.8,401.0" fill="url(#g66)" stroke="#8e9194" stroke-width="1.416" stroke-linejoin="round" />
<polygon points="1026.0,398.3 1026.0,390.8 1061.3,372.6 1061.3,367.2 1078.0,357.8 1078.0,348.4 1086.1,344.4 1086.1,367.3" fill="url(#g67)" stroke="#8e9194" stroke-width="1.062" stroke-linejoin="round" />
<polygon points="978.0,375.0 1051.4,325.5 1086.1,343.9 1005.4,393.9 980.8,381.6" fill="url(#g68)" stroke="#8e9194" stroke-width="1.534" stroke-linejoin="round" />
<polygon points="1035.8,339.0 1039.8,336.2 1042.6,337.8 1038.6,340.5" fill="#f4fafb" stroke="#8e9194" stroke-width="1.062" stroke-linejoin="round" />
<polygon points="1040.0,341.2 1044.0,338.4 1046.9,339.9 1042.9,342.7" fill="#f4fafb" stroke="#8e9194" stroke-width="1.062" stroke-linejoin="round" />
<polygon points="1044.3,343.4 1048.3,340.6 1051.1,342.1 1047.1,344.9" fill="#f4fafb" stroke="#8e9194" stroke-width="1.062" stroke-linejoin="round" />
<polygon points="1048.5,345.6 1052.5,342.8 1055.4,344.3 1051.4,347.1" fill="#f4fafb" stroke="#8e9194" stroke-width="1.062" stroke-linejoin="round" />
<polygon points="1052.8,347.7 1056.8,344.9 1059.6,346.4 1055.6,349.2" fill="#f4fafb" stroke="#8e9194" stroke-width="1.062" stroke-linejoin="round" />
<polygon points="1057.0,349.9 1061.0,347.1 1063.9,348.6 1059.9,351.4" fill="#f4fafb" stroke="#8e9194" stroke-width="1.062" stroke-linejoin="round" />
<polygon points="1061.3,352.1 1065.3,349.3 1068.1,350.8 1064.1,353.6" fill="#f4fafb" stroke="#8e9194" stroke-width="1.062" stroke-linejoin="round" />
<polygon points="1037.7,352.9 1043.3,348.9 1045.3,350.1 1039.7,354.1" fill="#f4fafb" stroke="#8e9194" stroke-width="1.062" stroke-linejoin="round" />
<polygon points="1166.7,408.0 1180.0,415.7 1110.6,461.6 1100.0,455.0 1134.1,444.3 1166.7,418.8" fill="url(#g69)" stroke="#8e9194" stroke-width="1.298" stroke-linejoin="round" />
<polygon points="1104.5,441.8 1166.7,400.4 1166.7,418.8 1134.1,444.3" fill="url(#g70)" stroke="#8e9194" stroke-width="1.416" stroke-linejoin="round" />
<polygon points="1136.7,442.3 1136.7,436.4 1154.3,422.6 1154.3,418.4 1160.5,411.2 1160.5,403.9 1166.7,400.8 1166.7,418.8" fill="url(#g71)" stroke="#8e9194" stroke-width="1.062" stroke-linejoin="round" />
<polygon points="1039.2,411.6 1107.6,369.4 1166.7,400.4 1104.5,441.8 1076.9,440.8 1049.4,418.8" fill="url(#g72)" stroke="#8e9194" stroke-width="1.534" stroke-linejoin="round" />
<polygon points="1089.2,388.2 1098.8,381.2 1103.8,383.8 1094.2,390.8" fill="#f4fafb" stroke="#8e9194" stroke-width="1.3569999999999998" stroke-linejoin="round" />
<polygon points="1098.1,392.9 1107.7,385.9 1112.7,388.5 1103.1,395.5" fill="#f4fafb" stroke="#8e9194" stroke-width="1.3569999999999998" stroke-linejoin="round" />
<polygon points="1107.0,397.6 1116.6,390.6 1121.6,393.2 1112.0,400.2" fill="#f4fafb" stroke="#8e9194" stroke-width="1.3569999999999998" stroke-linejoin="round" />
<polygon points="1115.9,402.3 1125.5,395.3 1130.5,397.9 1120.9,404.9" fill="#f4fafb" stroke="#8e9194" stroke-width="1.3569999999999998" stroke-linejoin="round" />
<polygon points="1124.8,407.0 1134.4,400.0 1139.4,402.6 1129.8,409.6" fill="#f4fafb" stroke="#8e9194" stroke-width="1.3569999999999998" stroke-linejoin="round" />
<polygon points="1133.7,411.7 1143.3,404.7 1148.3,407.3 1138.7,414.3" fill="#f4fafb" stroke="#8e9194" stroke-width="1.3569999999999998" stroke-linejoin="round" />
<polygon points="710.6,283.7 771.4,246.5 800.0,261.8 817.3,295.5 845.9,307.8 852.4,320.8 896.5,325.8 901.2,338.0 924.7,349.0 932.9,354.0 964.5,356.0 974.7,370.4 980.8,381.6 1005.4,393.9 1039.2,411.6 1049.4,418.8 1076.9,440.8 1134.1,444.3 1077.0,481.0" fill="url(#g73)" stroke="#8e9194" stroke-width="1.77" stroke-linejoin="round" />
<line x1="1077" y1="481" x2="1192" y2="407.5" stroke="url(#g74)" stroke-width="1.5"/>
<line x1="1077" y1="545" x2="1192" y2="470" stroke="url(#g75)" stroke-width="1.5"/>
<polygon points="710.6,283.7 1077.0,481.0 1077.0,545.0 710.6,347.3" fill="url(#g76)" stroke="#8e9194" stroke-width="2.006" stroke-linejoin="round" />
<polygon points="719.4,313.0 719.4,352.0 801.6,395.9 801.6,356.5" fill="none" stroke="#8e9194" stroke-width="1.062" stroke-linejoin="round" />
<polygon points="728.6,327.3 728.6,348.4 790.8,380.0 790.8,358.6" fill="url(#g77)" stroke="#8e9194" stroke-width="1.534" stroke-linejoin="round" />
<polygon points="732.2,330.6 735.2,333.0 735.2,347.3 732.2,347.8" fill="#a9cdd3" stroke="#8e9194" stroke-width="0.944" stroke-linejoin="round" />
<polygon points="735.2,333.0 735.2,347.3 789.4,374.9 789.4,360.3" fill="url(#g78)" stroke="#8e9194" stroke-width="1.18" stroke-linejoin="round" />
<polygon points="735.2,341.3 759.6,351.3 759.6,359.3 735.2,347.3" fill="url(#g79)"/>
<polyline points="735.2,341.3 759.6,351.3" fill="none" stroke="#8e9194" stroke-width="0.826" stroke-linejoin="round" stroke-linecap="round" />
<polygon points="759.6,352.4 766.1,355.7 766.1,362.6 759.6,359.3" fill="#cfdee2" stroke="#8e9194" stroke-width="0.826" stroke-linejoin="round" />
<polyline points="762.8,354.8 762.8,360.5" fill="none" stroke="#f4fafb" stroke-width="0.708" stroke-linejoin="round" stroke-linecap="round" />
<polygon points="735.2,347.3 789.4,374.9 789.4,376.7 732.2,347.6" fill="#fbfdfe" stroke="#8e9194" stroke-width="0.7"/>
<polygon points="728.6,327.3 728.6,348.4 790.8,380.0 790.8,358.6" fill="none" stroke="#8e9194" stroke-width="1.534" stroke-linejoin="round" />
<polygon points="835.9,378.0 835.9,414.0 889.0,441.1 889.0,405.9" fill="none" stroke="#8e9194" stroke-width="1.062" stroke-linejoin="round" />
<polygon points="844.9,390.6 844.9,409.0 876.1,424.9 876.1,406.9" fill="url(#g80)" stroke="#8e9194" stroke-width="1.534" stroke-linejoin="round" />
<polygon points="848.5,393.9 851.5,396.4 851.5,408.0 848.5,408.5" fill="#a9cdd3" stroke="#8e9194" stroke-width="0.944" stroke-linejoin="round" />
<polygon points="851.5,396.4 851.5,408.0 874.7,419.8 874.7,408.6" fill="url(#g81)" stroke="#8e9194" stroke-width="1.18" stroke-linejoin="round" />
<polygon points="851.5,403.2 861.9,406.8 861.9,413.3 851.5,408.0" fill="url(#g82)"/>
<polyline points="851.5,403.2 861.9,406.8" fill="none" stroke="#8e9194" stroke-width="0.826" stroke-linejoin="round" stroke-linecap="round" />
<polygon points="861.9,407.7 864.7,409.2 864.7,414.7 861.9,413.3" fill="#cfdee2" stroke="#8e9194" stroke-width="0.826" stroke-linejoin="round" />
<polyline points="863.3,409.0 863.3,413.6" fill="none" stroke="#f4fafb" stroke-width="0.708" stroke-linejoin="round" stroke-linecap="round" />
<polygon points="851.5,408.0 874.7,419.8 874.7,421.6 848.5,408.3" fill="#fbfdfe" stroke="#8e9194" stroke-width="0.7"/>
<polygon points="844.9,390.6 844.9,409.0 876.1,424.9 876.1,406.9" fill="none" stroke="#8e9194" stroke-width="1.534" stroke-linejoin="round" />
<polygon points="893.5,403.3 893.5,445.6 954.7,478.3 954.7,435.5" fill="none" stroke="#8e9194" stroke-width="1.062" stroke-linejoin="round" />
<polygon points="902.7,417.1 902.7,441.6 943.5,462.0 943.5,438.6" fill="url(#g83)" stroke="#8e9194" stroke-width="1.534" stroke-linejoin="round" />
<polygon points="906.3,420.4 909.3,423.0 909.3,440.7 906.3,441.1" fill="#a9cdd3" stroke="#8e9194" stroke-width="0.944" stroke-linejoin="round" />
<polygon points="909.3,423.0 909.3,440.7 942.1,456.9 942.1,440.3" fill="url(#g84)" stroke="#8e9194" stroke-width="1.18" stroke-linejoin="round" />
<polygon points="909.3,433.2 924.1,438.2 924.1,448.1 909.3,440.7" fill="url(#g85)"/>
<polyline points="909.3,433.2 924.1,438.2" fill="none" stroke="#8e9194" stroke-width="0.826" stroke-linejoin="round" stroke-linecap="round" />
<polygon points="924.1,439.6 928.0,441.7 928.0,450.2 924.1,448.1" fill="#cfdee2" stroke="#8e9194" stroke-width="0.826" stroke-linejoin="round" />
<polyline points="926.0,441.5 926.0,448.6" fill="none" stroke="#f4fafb" stroke-width="0.708" stroke-linejoin="round" stroke-linecap="round" />
<polygon points="909.3,440.7 942.1,456.9 942.1,458.7 906.3,440.9" fill="#fbfdfe" stroke="#8e9194" stroke-width="0.7"/>
<polygon points="902.7,417.1 902.7,441.6 943.5,462.0 943.5,438.6" fill="none" stroke="#8e9194" stroke-width="1.534" stroke-linejoin="round" />
<polygon points="959.4,442.9 959.4,482.2 1042.0,525.0 1042.0,485.7" fill="none" stroke="#8e9194" stroke-width="1.062" stroke-linejoin="round" />
<polygon points="968.6,456.3 968.6,477.1 1030.8,508.8 1030.8,488.4" fill="url(#g86)" stroke="#8e9194" stroke-width="1.534" stroke-linejoin="round" />
<polygon points="972.2,459.6 975.2,462.1 975.2,476.1 972.2,476.5" fill="#a9cdd3" stroke="#8e9194" stroke-width="0.944" stroke-linejoin="round" />
<polygon points="975.2,462.1 975.2,476.1 1029.4,503.7 1029.4,490.1" fill="url(#g87)" stroke="#8e9194" stroke-width="1.18" stroke-linejoin="round" />
<polygon points="975.2,470.2 999.6,480.6 999.6,488.4 975.2,476.1" fill="url(#g88)"/>
<polyline points="975.2,470.2 999.6,480.6" fill="none" stroke="#8e9194" stroke-width="0.826" stroke-linejoin="round" stroke-linecap="round" />
<polygon points="999.6,481.7 1006.1,485.0 1006.1,491.8 999.6,488.4" fill="#cfdee2" stroke="#8e9194" stroke-width="0.826" stroke-linejoin="round" />
<polyline points="1002.8,484.1 1002.8,489.7" fill="none" stroke="#f4fafb" stroke-width="0.708" stroke-linejoin="round" stroke-linecap="round" />
<polygon points="975.2,476.1 1029.4,503.7 1029.4,505.5 972.2,476.4" fill="#fbfdfe" stroke="#8e9194" stroke-width="0.7"/>
<polygon points="968.6,456.3 968.6,477.1 1030.8,508.8 1030.8,488.4" fill="none" stroke="#8e9194" stroke-width="1.534" stroke-linejoin="round" />
<path d="M806.5,381 Q806.5,376 811,378 L826,385.5 Q830,387.5 830,392 L830,400 Q830,404 826,402 L811,394.5 Q806.5,392.5 806.5,388 Z" fill="#c9dfe3" stroke="#8e9194" stroke-width="1.534" stroke-linejoin="round" stroke-linecap="round" />
<path d="M810.5,383.5 L822,389.5 L825.5,393 L825.5,398 L813,391.5 L810.5,389 Z" fill="#a9bcc1" stroke="#8e9194" stroke-width="1.18" stroke-linejoin="round" stroke-linecap="round" />
<text transform="matrix(0.879,0.477,-0.515,0.857,754.0,324.0)" font-size="11.20" fill="#85878a" textLength="23.6" lengthAdjust="spacingAndGlyphs" stroke="#85878a" stroke-width="0.2" >CFP2</text>
<text transform="matrix(0.879,0.477,-0.515,0.857,812.2,354.6)" font-size="11.20" fill="#85878a" textLength="21.2" lengthAdjust="spacingAndGlyphs" stroke="#85878a" stroke-width="0.2" >MPO</text>
<text transform="matrix(0.879,0.477,-0.515,0.857,853.8,377.3)" font-size="11.20" fill="#85878a" textLength="41.0" lengthAdjust="spacingAndGlyphs" stroke="#85878a" stroke-width="0.2" >QSFP-DD</text>
<text transform="matrix(0.879,0.477,-0.515,0.857,915.8,410.6)" font-size="11.20" fill="#85878a" textLength="24.3" lengthAdjust="spacingAndGlyphs" stroke="#85878a" stroke-width="0.2" >OSFP</text>
<text transform="matrix(0.879,0.477,-0.515,0.857,992.7,452.8)" font-size="11.20" fill="#85878a" textLength="23.8" lengthAdjust="spacingAndGlyphs" stroke="#85878a" stroke-width="0.2" >CFP8</text>
<text x="1006.4" y="260.3" font-size="19.30" fill="#636569" font-weight="normal" text-anchor="start" textLength="168.5" lengthAdjust="spacingAndGlyphs"  stroke="#636569" stroke-width="0.45">On Board Optics (OBO)</text>
<text x="1191.2" y="310.1" font-size="18.80" fill="#636569" font-weight="normal" text-anchor="start" textLength="34.9" lengthAdjust="spacingAndGlyphs"  stroke="#636569" stroke-width="0.45">ASIC</text>
<text x="665.4" y="506.4" font-size="18.60" fill="#636569" font-weight="normal" text-anchor="start" textLength="69.7" lengthAdjust="spacingAndGlyphs"  stroke="#636569" stroke-width="0.45">QSFP–DD</text>
<text x="699.4" y="586.8" font-size="18.60" fill="#636569" font-weight="normal" text-anchor="start" textLength="39.9" lengthAdjust="spacingAndGlyphs"  stroke="#636569" stroke-width="0.45">OSFP</text>
<text x="786.9" y="626.0" font-size="18.60" fill="#636569" font-weight="normal" text-anchor="start" textLength="37.7" lengthAdjust="spacingAndGlyphs"  stroke="#636569" stroke-width="0.45">CFP8</text>
<polygon points="655.0,464.8 771.5,391.6 771.5,409.1 688.0,459.5 657.5,479.5" fill="url(#g89)" stroke="#8e9194" stroke-width="1.416" stroke-linejoin="round" />
<polyline points="655.0,469.6 771.5,396.4" fill="none" stroke="#8e9194" stroke-width="1.18" stroke-linejoin="round" stroke-linecap="round" />
<polyline points="657.5,474.5 676.0,463.0" fill="none" stroke="#8e9194" stroke-width="1.062" stroke-linejoin="round" stroke-linecap="round" />
<polygon points="679.5,452.5 684.5,449.5 684.5,458.0 679.5,461.0" fill="#b9d6d9" stroke="#8e9194" stroke-width="0.944" stroke-linejoin="round" />
<polygon points="607.0,438.8 722.0,364.6 771.5,391.6 655.0,464.8" fill="url(#g90)" stroke="#8e9194" stroke-width="1.534" stroke-linejoin="round" />
<polygon points="591.9,443.2 644.0,468.3 641.5,490.3 591.9,462.7" fill="#e9f4f6" stroke="#8e9194" stroke-width="1.416" stroke-linejoin="round" />
<path d="M644,468.3 L655.5,461.8 Q659.5,464.5 659,471 L658.5,479.5 L641.5,490.3 Z" fill="#e4f1f4" stroke="#8e9194" stroke-width="1.416" stroke-linejoin="round" stroke-linecap="round" />
<polygon points="591.9,443.2 602.6,436.3 655.5,461.8 644.0,468.3" fill="#f4fafb" stroke="#8e9194" stroke-width="1.416" stroke-linejoin="round" />
<polygon points="592.8,448.2 599.4,451.6 599.4,463.6 592.8,460.6" fill="url(#g91)" stroke="#8e9194" stroke-width="1.062" stroke-linejoin="round" />
<polygon points="628.3,470.2 640.2,476.0 640.2,488.6 628.3,482.6" fill="url(#g92)" stroke="#8e9194" stroke-width="1.062" stroke-linejoin="round" />
<polygon points="600.0,453.5 606.0,450.0 631.0,462.5 626.4,466.5 626.4,484.5 600.0,471.0" fill="#f2f8f9" stroke="#8e9194" stroke-width="1.298" stroke-linejoin="round" />
<polygon points="603.5,458.0 623.0,468.0 623.0,480.5 603.5,470.5" fill="#a9bdc3" stroke="#8e9194" stroke-width="1.062" stroke-linejoin="round" />
<polygon points="603.5,458.0 609.0,455.0 627.0,464.0 623.0,468.0" fill="#cfdfe3" stroke="#8e9194" stroke-width="0.944" stroke-linejoin="round" />
<polyline points="610.0,461.5 610.0,473.5" fill="none" stroke="#e8f1f3" stroke-width="1.062" stroke-linejoin="round" stroke-linecap="round" />
<polyline points="616.5,464.8 616.5,477.0" fill="none" stroke="#e8f1f3" stroke-width="1.062" stroke-linejoin="round" stroke-linecap="round" />
<rect x="689.8" y="389.8" width="39.2" height="23.2" rx="3.2" fill="#808285"/>
<text transform="translate(695.54,406.90) scale(0.937,1)" font-size="16.00" fill="#fff" font-weight="bold">5.4</text>
<text x="719.15" y="406.90" font-size="16.96" fill="#fff" font-weight="bold">*</text>
<polygon points="820.2,446.0 843.5,434.3 846.5,436.9 831.4,446.5 826.0,449.8" fill="#d3e9ed" stroke="#8e9194" stroke-width="1.062" stroke-linejoin="round" />
<polygon points="820.2,445.2 831.4,439.5 831.4,446.5 820.2,453.3" fill="#cfe7eb" stroke="#8e9194" stroke-width="0.944" stroke-linejoin="round" />
<polygon points="761.6,476.9 820.2,445.2 820.2,453.3 831.4,446.5 831.4,450.8 763.0,492.5 761.6,491.8" fill="url(#g93)" stroke="#8e9194" stroke-width="1.298" stroke-linejoin="round" />
<polyline points="765.0,487.0 784.0,475.5" fill="none" stroke="#8e9194" stroke-width="0.944" stroke-linejoin="round" stroke-linecap="round" />
<polyline points="765.0,490.0 786.0,477.5" fill="none" stroke="#8e9194" stroke-width="0.944" stroke-linejoin="round" stroke-linecap="round" />
<polygon points="743.5,465.1 821.1,417.9 824.5,419.6 824.5,422.3 843.5,432.6 761.6,476.9" fill="url(#g94)" stroke="#8e9194" stroke-width="1.416" stroke-linejoin="round" />
<polyline points="821.1,417.9 821.1,420.8 824.5,422.3" fill="none" stroke="#8e9194" stroke-width="0.944" stroke-linejoin="round" stroke-linecap="round" />
<path d="M735,468.5 L738,466 L762,478.5 L762,496 L757.5,498 L735.5,486.5 Z" fill="#e9f4f6" stroke="#8e9194" stroke-width="1.298" stroke-linejoin="round" stroke-linecap="round" />
<polygon points="756.5,480.0 762.0,477.5 762.0,496.0 757.5,498.0" fill="#c9e3e8" stroke="#8e9194" stroke-width="1.062" stroke-linejoin="round" />
<polygon points="737.0,465.2 739.8,463.4 763.5,475.6 761.8,478.2" fill="#fbfdfe" stroke="#8e9194" stroke-width="1.298" stroke-linejoin="round" />
<path d="M736,472.5 Q736,469 739.5,470.7 L752,477.3 Q755,478.9 755,482 L755,491 Q755,494.5 751.5,492.8 L739.5,486.5 Q736,484.8 736,481.5 Z" fill="#f1f8fa" stroke="#8e9194" stroke-width="1.416" stroke-linejoin="round" stroke-linecap="round" />
<path d="M739.3,477.8 L750.5,483.6 Q751.6,484.3 751.6,485.8 L751.6,489.8 L741,484.3 Q739.3,483.3 739.3,481.8 Z" fill="url(#g95)" stroke="#8e9194" stroke-width="1.062" stroke-linejoin="round" stroke-linecap="round" />
<path d="M741.5,481 L746,483.3 L746,486.8" fill="none" stroke="#dfeaed" stroke-width="0.944" stroke-linejoin="round" stroke-linecap="round" />
<rect x="760.0" y="431.4" width="38.6" height="23.4" rx="3.2" fill="#808285"/>
<text transform="translate(765.70,447.80) scale(0.894,1)" font-size="16.00" fill="#fff" font-weight="bold">1.4</text>
<text x="786.35" y="447.80" font-size="16.96" fill="#fff" font-weight="bold">*</text>
<polygon points="761.5,555.6 781.6,543.5 802.0,540.0 893.0,480.5 899.0,478.6 902.0,484.5 772.8,571.5 763.9,572.0" fill="url(#g96)" stroke="#8e9194" stroke-width="1.416" stroke-linejoin="round" />
<polyline points="802.0,545.5 895.0,486.0" fill="none" stroke="#8e9194" stroke-width="1.062" stroke-linejoin="round" stroke-linecap="round" />
<polyline points="775.0,562.0 840.0,521.5 845.0,523.0 897.0,489.5" fill="none" stroke="#8e9194" stroke-width="1.062" stroke-linejoin="round" stroke-linecap="round" />
<polyline points="775.0,566.5 838.0,527.0" fill="none" stroke="#8e9194" stroke-width="1.062" stroke-linejoin="round" stroke-linecap="round" />
<polygon points="894.0,479.5 911.7,470.5 915.0,472.5 903.0,480.5" fill="#d9ecef" stroke="#8e9194" stroke-width="0.944" stroke-linejoin="round" />
<polygon points="866.0,460.3 881.6,450.8 909.0,464.6 891.5,474.9" fill="#9fb4b9" stroke="#8e9194" stroke-width="1.062" stroke-linejoin="round" />
<polygon points="870.0,459.6 880.5,453.2 883.5,454.8 873.0,461.2" fill="#f4fafb" stroke="none" stroke-width="0.0" stroke-linejoin="round" />
<polygon points="874.5,462.0 880.0,458.7 883.0,460.3 877.5,463.6" fill="#f4fafb" stroke="none" stroke-width="0.0" stroke-linejoin="round" />
<polygon points="882.0,458.0 887.0,455.0 890.0,456.6 885.0,459.6" fill="#f4fafb" stroke="none" stroke-width="0.0" stroke-linejoin="round" />
<polygon points="879.5,464.8 885.0,461.5 888.0,463.1 882.5,466.4" fill="#f4fafb" stroke="none" stroke-width="0.0" stroke-linejoin="round" />
<polygon points="887.0,460.8 892.0,457.8 895.0,459.4 890.0,462.4" fill="#f4fafb" stroke="none" stroke-width="0.0" stroke-linejoin="round" />
<polygon points="884.5,467.6 890.0,464.3 893.0,465.9 887.5,469.2" fill="#f4fafb" stroke="none" stroke-width="0.0" stroke-linejoin="round" />
<polygon points="892.0,463.6 897.0,460.6 900.0,462.2 895.0,465.2" fill="#f4fafb" stroke="none" stroke-width="0.0" stroke-linejoin="round" />
<polygon points="889.5,470.4 895.0,467.1 898.0,468.7 892.5,472.0" fill="#f4fafb" stroke="none" stroke-width="0.0" stroke-linejoin="round" />
<polygon points="897.0,466.4 902.0,463.4 905.0,465.0 900.0,468.0" fill="#f4fafb" stroke="none" stroke-width="0.0" stroke-linejoin="round" />
<polygon points="852.8,464.5 881.6,448.6 882.6,452.0 866.0,460.8 855.0,466.5" fill="#cfe6ea" stroke="#8e9194" stroke-width="1.062" stroke-linejoin="round" />
<polygon points="891.5,474.9 910.5,464.3 911.9,465.2 911.9,471.0 899.0,478.6 893.0,480.5" fill="#b5d7da" stroke="#8e9194" stroke-width="1.062" stroke-linejoin="round" />
<polygon points="802.0,533.2 891.5,474.9 893.0,480.5 802.0,540.0" fill="url(#g97)" stroke="#8e9194" stroke-width="1.062" stroke-linejoin="round" />
<polygon points="769.5,515.5 866.0,460.3 891.5,474.9 802.0,533.2" fill="url(#g98)" stroke="#8e9194" stroke-width="1.416" stroke-linejoin="round" />
<polygon points="769.5,515.5 802.0,533.2 802.0,540.0 798.5,541.5 767.3,524.8 767.5,519.0" fill="#f1f8fa" stroke="#8e9194" stroke-width="1.18" stroke-linejoin="round" />
<polyline points="772.5,518.8 771.9,524.8" fill="none" stroke="#7f9298" stroke-width="1.4749999999999999" stroke-linejoin="round" stroke-linecap="round" />
<polyline points="776.8,521.1 776.1,527.1" fill="none" stroke="#7f9298" stroke-width="1.4749999999999999" stroke-linejoin="round" stroke-linecap="round" />
<polyline points="781.0,523.5 780.4,529.5" fill="none" stroke="#7f9298" stroke-width="1.4749999999999999" stroke-linejoin="round" stroke-linecap="round" />
<polyline points="785.2,525.8 784.6,531.8" fill="none" stroke="#7f9298" stroke-width="1.4749999999999999" stroke-linejoin="round" stroke-linecap="round" />
<polyline points="789.5,528.1 788.9,534.1" fill="none" stroke="#7f9298" stroke-width="1.4749999999999999" stroke-linejoin="round" stroke-linecap="round" />
<polyline points="793.8,530.5 793.1,536.5" fill="none" stroke="#7f9298" stroke-width="1.4749999999999999" stroke-linejoin="round" stroke-linecap="round" />
<polyline points="798.0,532.8 797.4,538.8" fill="none" stroke="#7f9298" stroke-width="1.4749999999999999" stroke-linejoin="round" stroke-linecap="round" />
<polygon points="761.0,530.4 767.3,524.8 798.5,541.5 781.6,543.5" fill="#fbfdfe" stroke="#8e9194" stroke-width="1.062" stroke-linejoin="round" />
<polygon points="740.5,542.4 763.9,554.6 763.9,572.0 740.5,559.4" fill="#cfe7eb" stroke="#8e9194" stroke-width="1.416" stroke-linejoin="round" />
<polygon points="763.9,554.6 781.6,543.5 781.6,548.5 768.0,556.5 768.0,569.5 763.9,572.0" fill="#c3dfe3" stroke="#8e9194" stroke-width="1.298" stroke-linejoin="round" />
<path d="M740.5,541.5 L758.5,531.5 Q760.5,530.3 762.5,531.3 L781.6,541.5 L781.6,543.5 L763.9,554.6 L740.5,542.4 Z" fill="url(#g99)" stroke="#8e9194" stroke-width="1.416" stroke-linejoin="round" stroke-linecap="round" />
<polygon points="744.8,550.3 759.6,558.3 759.6,567.3 744.8,559.3" fill="url(#g100)" stroke="#8e9194" stroke-width="1.18" stroke-linejoin="round" />
<path d="M747.2,555.2 L750,554 L756.5,557.6 L757.3,560.3 L757.3,564.5 L747.2,559.2 Z" fill="#e4eff2" stroke="#8e9194" stroke-width="0.826" stroke-linejoin="round" stroke-linecap="round" />
<path d="M739.5,548 Q735.2,547.5 735.2,552 L735.8,558.5 Q736.5,561.5 740,561.5 Z" fill="#f4fafb" stroke="#8e9194" stroke-width="1.298" stroke-linejoin="round" stroke-linecap="round" />
<path d="M761.5,570.5 Q761.5,577 766,577.5 L768,576.5 L768,569.5" fill="#f4fafb" stroke="#8e9194" stroke-width="1.18" stroke-linejoin="round" stroke-linecap="round" />
<rect x="822.7" y="467.6" width="38.5" height="23.1" rx="3.2" fill="#808285"/>
<text transform="translate(828.27,484.50) scale(0.953,1)" font-size="16.00" fill="#fff" font-weight="bold">2.9</text>
<text x="851.35" y="484.50" font-size="16.96" fill="#fff" font-weight="bold">*</text>
<polygon points="888.8,594.1 1009.0,521.0 1003.5,544.0 918.0,596.0 890.5,612.5" fill="url(#g101)" stroke="#8e9194" stroke-width="1.416" stroke-linejoin="round" />
<polyline points="888.8,599.1 1009.0,526.0" fill="none" stroke="#8e9194" stroke-width="1.18" stroke-linejoin="round" stroke-linecap="round" />
<polygon points="914.5,583.0 920.0,579.8 920.0,588.0 914.5,591.2" fill="#b9d6d9" stroke="#8e9194" stroke-width="0.944" stroke-linejoin="round" />
<polyline points="891.0,607.0 908.0,596.5" fill="none" stroke="#8e9194" stroke-width="1.062" stroke-linejoin="round" stroke-linecap="round" />
<polygon points="833.6,568.1 953.8,490.1 1009.0,521.0 888.8,594.1" fill="url(#g102)" stroke="#8e9194" stroke-width="1.534" stroke-linejoin="round" />
<polygon points="819.5,573.0 877.0,603.5 874.5,627.0 819.5,594.0" fill="#e9f4f6" stroke="#8e9194" stroke-width="1.416" stroke-linejoin="round" />
<path d="M877,603.5 L889,596.5 Q893,599.5 892.5,606 L892,614.5 L874.5,627 Z" fill="#e4f1f4" stroke="#8e9194" stroke-width="1.416" stroke-linejoin="round" stroke-linecap="round" />
<polygon points="819.5,573.0 830.5,566.0 889.0,596.5 877.0,603.5" fill="#f4fafb" stroke="#8e9194" stroke-width="1.416" stroke-linejoin="round" />
<polygon points="820.8,578.5 828.0,582.3 828.0,596.0 820.8,592.0" fill="url(#g103)" stroke="#8e9194" stroke-width="1.062" stroke-linejoin="round" />
<polygon points="858.0,604.0 872.5,611.5 872.5,624.5 858.0,616.5" fill="url(#g104)" stroke="#8e9194" stroke-width="1.062" stroke-linejoin="round" />
<polygon points="828.5,585.0 835.0,581.5 860.0,594.5 855.0,598.5 855.0,617.5 828.5,603.5" fill="#f2f8f9" stroke="#8e9194" stroke-width="1.298" stroke-linejoin="round" />
<path d="M832,592 Q832,589.5 834.5,590.8 L849.5,598.6 Q852,600 852,602.5 L852,610 Q852,612.5 849.5,611.2 L834.5,603.4 Q832,602 832,599.5 Z" fill="#cfe4e8" stroke="#8e9194" stroke-width="1.18" stroke-linejoin="round" stroke-linecap="round" />
<polygon points="836.0,596.0 847.5,602.0 847.5,607.5 836.0,601.5" fill="#f2f8f9" stroke="#8e9194" stroke-width="0.944" stroke-linejoin="round" />
<rect x="901.2" y="508.5" width="39.2" height="23.9" rx="3.2" fill="#808285"/>
<text transform="translate(907.03,526.40) scale(0.946,1)" font-size="16.30" fill="#fff" font-weight="bold">5.3</text>
<text x="929.85" y="526.40" font-size="17.28" fill="#fff" font-weight="bold">*</text>
</svg>
</body></html>
